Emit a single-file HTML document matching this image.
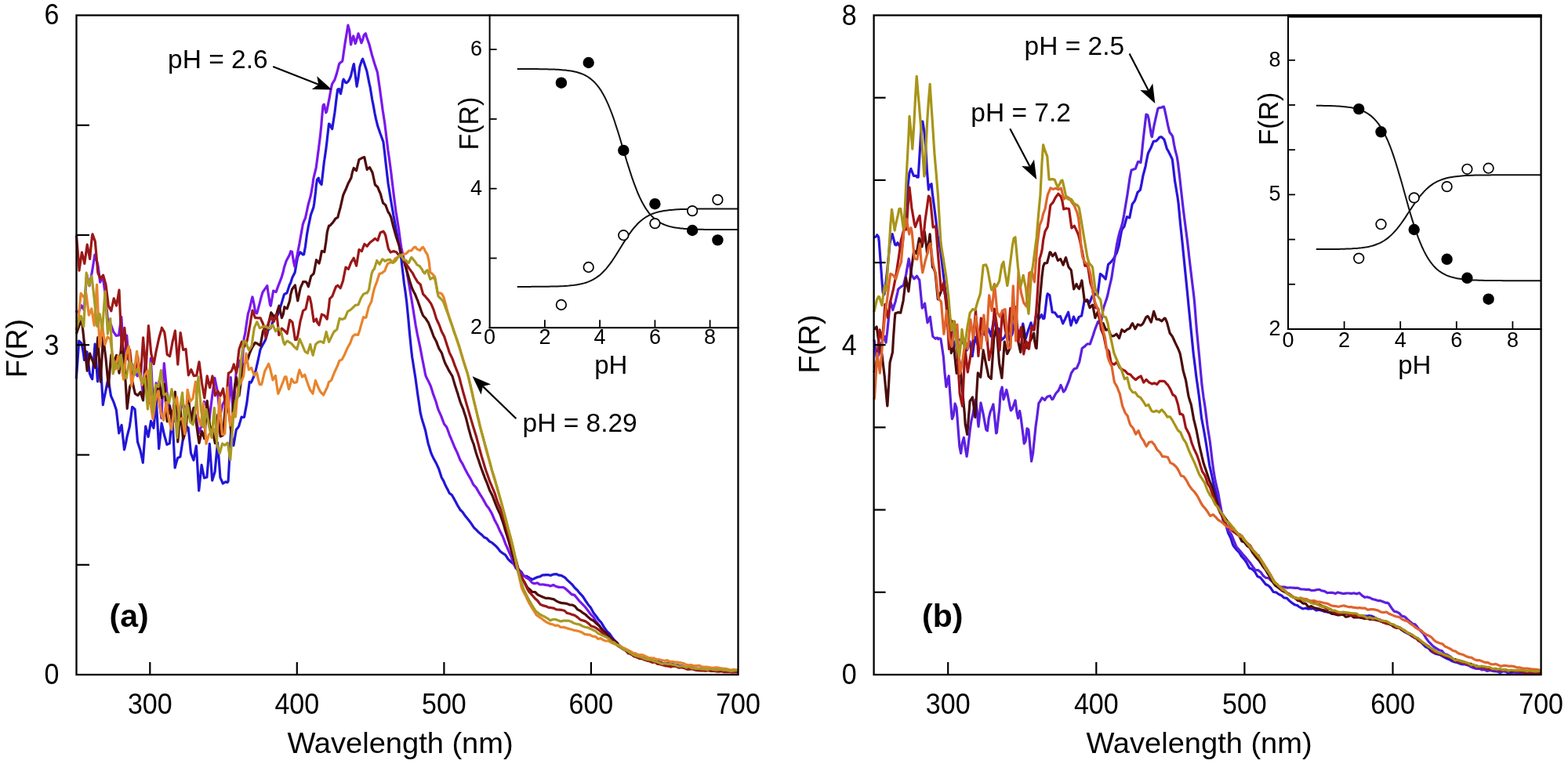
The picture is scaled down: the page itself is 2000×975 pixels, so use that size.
<!DOCTYPE html><html><head><meta charset="utf-8"><style>html,body{margin:0;padding:0;background:#fff;overflow:hidden}svg{display:block}</style></head><body>
<svg width="2000" height="975" viewBox="0 0 2000 975" font-family='"Liberation Sans", Arial, Helvetica, sans-serif' fill="#000">
<defs>
<clipPath id="ca"><rect x="94.5" y="19.5" width="847.0" height="841.5"/></clipPath>
<clipPath id="cb"><rect x="1111.6" y="19.5" width="854.0" height="841.5"/></clipPath>
</defs>
<rect width="2000" height="975" fill="#fff"/>
<polyline points="97.0,483.5 97.3,482.9 98.9,461.3 100.7,435.2 100.8,435.2 102.6,436.9 104.1,438.2 104.5,440.3 106.4,450.9 107.5,459.5 108.2,457.3 110.1,451.5 110.9,449.0 112.0,457.6 113.9,472.7 114.3,476.4 115.8,480.2 117.6,483.7 117.7,483.9 119.5,461.0 121.1,439.0 121.4,442.4 123.2,468.3 124.5,487.0 125.1,482.3 127.0,467.2 127.9,459.8 128.9,475.5 130.8,506.9 131.3,516.6 132.6,509.5 134.5,500.4 134.7,499.3 136.4,491.2 138.1,482.5 138.2,483.4 140.1,496.5 141.5,505.3 142.0,506.3 143.9,510.6 144.9,513.0 145.8,515.4 147.6,520.9 148.3,523.0 149.5,533.2 151.4,549.7 151.7,552.8 153.2,548.1 155.1,542.4 155.1,542.4 157.0,559.7 158.5,573.9 158.9,572.5 160.8,563.9 161.9,557.8 162.6,555.1 164.5,547.7 165.3,544.5 166.4,536.8 168.2,522.9 168.7,519.3 170.1,520.5 172.0,522.2 172.1,522.3 173.9,544.1 175.5,564.1 175.8,564.7 177.6,570.4 178.9,574.3 179.5,577.0 181.4,585.9 182.3,590.4 183.2,578.0 185.1,552.6 185.7,544.2 187.0,549.1 188.9,556.4 189.1,557.4 190.8,547.6 192.5,537.4 192.6,537.7 194.5,542.6 195.9,546.3 196.4,541.8 198.2,522.7 199.3,511.7 200.1,526.0 202.0,559.5 202.7,572.6 203.9,561.7 205.8,543.8 206.1,540.1 207.6,546.4 209.5,554.9 209.5,555.0 211.4,561.7 212.9,567.4 213.2,567.2 215.1,566.4 216.3,565.9 217.0,558.9 218.9,539.3 219.7,530.3 220.8,550.2 222.6,587.1 223.1,597.0 224.5,591.9 226.4,585.0 226.5,584.5 228.2,583.8 229.9,582.9 230.1,581.6 232.0,569.3 233.3,560.7 233.9,557.8 235.8,548.2 236.7,543.2 237.6,544.0 239.5,545.5 240.1,545.9 241.4,557.8 243.2,575.6 243.5,578.2 245.1,582.5 246.9,587.3 247.0,586.9 248.9,576.8 250.3,569.0 250.8,576.1 252.6,607.6 253.7,626.1 254.5,618.6 256.4,600.6 257.1,593.4 258.2,598.9 260.1,608.0 260.5,609.9 262.0,609.5 263.9,609.0 263.9,609.0 265.8,586.2 267.3,566.4 267.6,570.5 269.5,596.3 270.7,613.2 271.4,611.1 273.2,605.0 274.1,602.1 275.1,591.2 277.0,570.7 277.5,564.9 278.9,582.6 280.8,607.1 280.9,609.4 282.6,613.2 284.3,617.0 284.5,616.9 286.4,615.7 287.7,614.8 288.2,615.1 290.1,615.7 291.1,614.0 292.0,598.1 293.9,564.0 294.5,552.2 295.8,559.1 297.6,567.7 297.9,568.5 299.5,559.0 301.3,548.3 301.4,548.2 303.2,546.1 304.7,543.9 305.1,542.3 307.0,535.9 308.1,532.1 308.9,532.4 310.8,532.5 311.5,532.2 312.6,526.1 314.5,516.1 314.9,513.9 316.4,501.8 318.2,487.9 318.3,487.4 320.1,488.2 321.7,485.4 322.0,484.4 323.9,480.0 325.1,477.2 325.8,474.5 327.6,466.5 328.5,462.6 329.5,458.0 331.4,449.0 331.9,446.4 333.2,443.6 335.1,440.0 335.3,439.7 337.0,436.7 338.7,433.5 338.9,432.9 340.8,426.0 342.1,421.0 342.6,420.6 344.5,419.2 345.5,418.4 346.4,415.5 348.2,409.2 348.9,406.9 350.1,406.7 352.0,406.3 352.3,406.2 353.9,402.4 355.7,397.8 355.8,397.7 357.6,391.9 359.1,387.2 359.5,385.9 361.4,379.3 362.5,375.6 363.2,375.2 365.1,374.3 365.9,373.9 367.0,370.7 368.9,365.1 369.3,363.8 370.8,360.8 372.6,354.9 372.7,354.5 374.5,351.0 376.1,347.8 376.4,346.4 378.2,335.8 379.5,328.6 380.1,327.1 382.0,323.5 382.9,321.8 383.9,322.7 385.8,324.4 386.3,325.0 387.6,324.7 389.5,314.5 389.7,312.9 391.4,299.9 393.1,290.3 393.2,289.7 395.1,280.7 396.5,273.9 397.0,272.6 398.9,267.4 399.9,264.5 400.8,259.3 402.6,244.4 403.3,236.7 404.5,229.1 406.4,227.1 406.7,228.9 408.2,233.3 410.1,235.5 410.1,235.5 412.0,219.0 413.5,205.6 413.9,203.5 415.8,190.2 416.9,181.5 417.6,174.9 419.5,158.1 420.3,158.3 421.4,160.3 423.2,163.9 423.7,164.6 425.1,155.5 427.0,143.3 427.1,142.5 428.9,127.5 430.5,115.2 430.8,114.1 432.6,113.6 433.9,118.2 434.5,119.7 436.4,110.6 437.3,103.3 438.2,101.2 440.1,104.2 440.7,105.2 442.0,105.7 443.9,104.1 444.1,103.9 445.8,101.0 447.5,97.0 447.6,96.6 449.5,88.6 450.9,82.6 451.4,81.6 453.2,95.9 454.3,104.3 455.1,110.3 457.0,99.6 457.7,93.7 458.9,85.0 460.8,79.2 461.1,78.1 462.6,75.2 464.5,80.4 464.5,80.5 466.4,86.3 467.9,90.7 468.2,92.3 470.1,101.9 471.3,107.9 472.0,110.5 473.9,121.9 474.7,127.0 475.8,132.4 477.6,142.3 478.1,145.0 479.5,151.6 481.4,159.4 481.5,160.0 483.2,165.1 484.9,170.0 485.1,170.5 487.0,175.7 488.3,179.4 488.9,180.9 490.8,196.4 491.7,204.9 492.6,212.7 494.5,229.1 495.1,234.2 496.4,241.9 498.2,253.5 498.5,255.2 500.1,264.5 501.9,275.1 502.0,275.5 503.9,285.6 505.3,293.4 505.8,295.7 507.6,305.1 508.7,310.5 509.5,314.4 511.4,326.7 512.1,332.7 513.2,342.4 515.1,358.5 515.5,362.0 517.0,372.0 518.9,386.9 518.9,387.3 520.8,406.7 522.3,423.5 522.6,426.6 524.5,445.6 525.7,455.9 526.4,460.0 528.2,471.8 529.1,477.3 530.1,483.7 532.0,497.6 532.5,501.5 533.9,510.8 535.8,523.8 535.9,525.1 537.6,532.6 539.3,538.5 539.5,539.0 541.4,545.2 542.7,549.7 543.2,552.2 545.1,561.1 546.1,565.9 547.0,568.8 548.9,575.0 549.5,577.1 550.8,580.3 552.6,584.2 552.9,584.8 554.5,587.7 556.3,591.1 556.4,591.2 558.2,595.2 559.7,598.4 560.1,599.7 562.0,605.6 563.1,609.1 563.9,610.5 565.8,613.9 566.5,615.4 567.6,618.1 569.5,622.0 569.9,622.7 571.4,625.6 573.2,629.3 573.3,629.4 575.1,630.8 576.7,632.1 577.0,632.7 578.9,636.1 580.1,638.4 580.8,639.5 582.6,643.0 583.5,644.7 584.5,646.4 586.4,649.5 586.9,650.5 588.2,651.7 590.1,653.6 590.3,653.8 592.0,656.3 593.7,658.8 593.9,659.0 595.8,661.3 597.1,662.9 597.6,663.6 599.5,666.0 600.5,667.4 601.4,668.6 603.2,671.4 603.9,672.4 605.1,674.0 607.0,675.6 607.3,675.9 608.9,677.6 610.7,679.5 610.8,679.6 612.6,681.0 614.1,682.1 614.5,682.5 616.4,684.5 617.5,685.7 618.2,686.0 620.1,686.8 620.9,687.1 622.0,688.3 623.9,690.4 624.3,690.9 625.8,691.7 627.6,692.7 627.7,692.8 629.5,694.3 631.1,695.7 631.4,695.9 633.2,697.7 634.5,699.0 635.1,699.8 637.0,702.2 637.9,703.4 638.9,704.2 640.8,705.7 641.3,706.2 642.6,706.9 644.5,708.1 644.7,708.3 646.4,710.8 648.1,713.6 648.2,713.7 650.1,715.5 651.5,716.8 652.0,717.2 653.9,718.7 654.9,719.5 655.8,720.4 657.6,722.3 658.3,723.1 659.5,724.4 661.4,726.6 661.7,727.0 663.2,728.4 665.1,730.0 665.1,730.0 667.0,733.3 668.5,735.0 668.9,735.1 670.8,735.3 671.9,735.4 672.6,735.9 674.5,737.0 675.3,737.6 676.4,738.1 678.2,739.2 678.7,739.4 680.1,739.0 682.0,738.1 682.1,738.0 683.9,737.2 685.5,736.5 685.8,736.4 687.6,736.0 688.9,735.8 689.5,735.4 691.4,734.2 692.3,733.9 693.2,733.9 695.1,733.8 695.7,733.7 697.0,733.7 698.9,733.6 699.1,733.6 700.8,734.0 702.5,734.4 702.6,734.3 704.5,733.5 705.9,733.0 706.4,732.9 708.2,732.8 709.3,732.7 710.1,732.8 712.0,733.6 712.7,734.1 713.9,734.2 715.8,734.5 716.1,734.5 717.6,735.3 719.5,736.3 719.5,736.4 721.4,737.7 722.9,739.6 723.2,739.9 725.1,741.6 726.3,742.7 727.0,743.3 728.9,745.1 729.7,745.9 730.8,747.2 732.6,749.5 733.1,750.2 734.5,751.5 736.4,753.2 736.5,753.3 738.2,755.4 739.9,757.5 740.1,757.7 742.0,759.7 743.3,761.1 743.9,762.0 745.8,764.9 746.7,766.5 747.6,767.7 749.5,770.5 750.1,771.5 751.4,773.0 753.2,775.2 753.5,775.5 755.1,778.5 756.9,781.9 757.0,782.0 758.9,784.4 760.3,786.2 760.8,786.8 762.6,789.5 763.7,791.1 764.5,791.9 766.4,793.9 767.1,794.7 768.2,796.6 770.1,799.9 770.5,800.5 772.0,802.7 773.9,805.5 773.9,805.5 775.8,807.2 777.3,808.4 777.6,808.9 779.5,811.7 780.7,813.6 781.4,814.3 783.2,816.5 784.1,817.5 785.1,818.4 787.0,820.2 787.5,820.7 788.9,822.8 790.8,824.7 790.9,824.9 792.6,826.4 794.3,827.9 794.5,827.9 796.4,828.7 797.7,829.2 798.2,829.4 800.1,830.1 801.1,830.4 802.0,831.1 803.9,832.4 804.5,832.9 805.8,834.0 807.6,835.6 807.9,835.9 809.5,836.2 811.3,836.1 811.4,836.2 813.2,837.1 814.7,837.9 815.1,838.0 817.0,838.4 818.1,838.7 818.9,839.0 820.8,839.6 821.5,839.9 822.6,840.5 824.5,841.5 824.9,841.7 826.4,841.4 828.2,840.9 828.3,840.9 830.1,842.2 831.7,843.4 832.0,843.4 833.9,843.7 835.1,843.9 835.8,844.0 837.6,844.4 838.5,844.7 839.5,844.7 841.4,844.7 841.9,844.8 843.2,845.5 845.1,846.4 845.3,846.5 847.0,846.6 848.7,846.6 848.9,846.6 850.8,846.4 852.1,846.3 852.6,846.4 854.5,846.9 855.5,847.1 856.4,847.3 858.2,847.6 858.9,847.8 860.1,848.0 862.0,848.3 862.3,848.4 863.9,848.7 865.7,849.1 865.8,849.1 867.6,849.3 869.1,849.5 869.5,849.7 871.4,850.8 872.5,851.4 873.2,851.5 875.1,851.7 875.9,851.7 877.0,851.7 878.9,851.7 879.3,851.7 880.8,852.3 882.6,853.0 882.7,853.1 884.5,853.5 886.1,854.0 886.4,854.0 888.2,853.8 889.5,853.7 890.1,853.6 892.0,853.4 892.9,853.2 893.9,853.6 895.8,854.2 896.3,854.4 897.6,854.7 899.5,855.1 899.7,855.2 901.4,854.6 903.1,854.0 903.2,854.1 905.1,854.5 906.5,854.8 907.0,854.8 908.9,855.2 909.9,855.4 910.8,855.5 912.6,855.7 913.3,855.8 914.5,855.8 916.4,855.9 916.7,855.9 918.2,855.9 920.1,855.9 920.1,855.9 922.0,855.9 923.5,855.9 923.9,855.9 925.8,855.9 926.9,855.9 927.6,856.1 929.5,856.7 930.3,857.0 931.4,857.0 933.2,857.1 933.7,857.2 935.1,856.9 937.0,856.7 937.1,856.6 938.9,856.7 940.5,856.7 940.8,856.8 941.0,856.9" fill="none" stroke="#2216d8" stroke-width="3.2" stroke-linejoin="round" clip-path="url(#ca)"/>
<polyline points="97.0,398.6 97.1,398.4 98.9,398.0 100.5,397.6 100.8,397.1 102.6,392.8 103.9,389.8 104.5,390.8 106.4,394.1 107.3,395.8 108.2,383.1 110.1,357.8 110.7,350.7 112.0,356.0 113.9,363.8 114.1,364.8 115.8,356.0 117.5,346.4 117.6,345.7 119.5,334.0 120.9,325.2 121.4,326.6 123.2,332.6 124.3,336.1 125.1,339.7 127.0,354.5 127.7,360.2 128.9,357.6 130.8,353.3 131.1,352.5 132.6,363.5 134.5,377.3 134.5,377.4 136.4,397.1 137.9,413.5 138.2,413.6 140.1,414.3 141.3,413.9 142.0,415.8 143.9,421.0 144.7,423.3 145.8,424.9 147.6,427.7 148.1,428.5 149.5,428.2 151.4,427.9 151.5,427.9 153.2,416.0 154.9,404.5 155.1,408.5 157.0,444.2 158.3,469.4 158.9,462.9 160.8,440.4 161.7,428.2 162.6,438.8 164.5,460.0 165.1,466.9 166.4,466.0 168.2,464.7 168.5,464.5 170.1,468.8 171.9,473.5 172.0,473.7 173.9,477.2 175.3,479.9 175.8,478.9 177.6,474.6 178.7,472.0 179.5,478.8 181.4,494.2 182.1,500.2 183.2,486.1 185.1,462.8 185.5,458.1 187.0,478.3 188.9,503.7 188.9,504.2 190.8,478.9 192.3,457.3 192.6,463.0 194.5,497.5 195.7,519.8 196.4,513.8 198.2,496.8 199.1,488.9 200.1,495.3 202.0,506.1 202.5,509.0 203.9,518.9 205.8,532.4 205.9,533.6 207.6,498.3 209.3,463.5 209.5,465.4 211.4,485.2 212.7,499.2 213.2,502.3 215.1,513.1 216.1,518.7 217.0,520.8 218.9,525.3 219.5,526.8 220.8,530.7 222.6,536.6 222.9,537.5 224.5,531.0 226.3,523.6 226.4,523.5 228.2,523.3 229.7,523.1 230.1,522.3 232.0,518.3 233.1,516.0 233.9,517.0 235.8,519.4 236.5,520.3 237.6,519.4 239.5,517.8 239.9,517.5 241.4,526.0 243.2,537.0 243.3,537.4 245.1,528.9 246.7,521.5 247.0,522.5 248.9,528.8 250.1,533.0 250.8,536.9 252.6,547.6 253.5,552.6 254.5,549.9 256.4,544.9 256.9,543.4 258.2,531.2 260.1,514.2 260.3,512.5 262.0,514.9 263.7,517.4 263.9,518.2 265.8,527.7 267.1,534.5 267.6,530.3 269.5,514.8 270.5,506.5 271.4,500.3 273.2,487.0 273.9,482.3 275.1,488.3 277.0,497.6 277.3,499.2 278.9,513.8 280.7,530.9 280.8,530.8 282.6,522.4 284.1,515.8 284.5,515.5 286.4,511.4 287.5,508.3 288.2,511.8 290.1,520.8 290.9,524.6 292.0,510.9 293.9,487.3 294.3,481.7 295.8,505.5 297.6,530.8 297.7,531.6 299.5,499.3 301.1,475.9 301.4,474.6 303.2,465.6 304.5,459.8 305.1,463.8 307.0,474.1 307.9,478.0 308.9,463.4 310.8,438.0 311.3,431.1 312.6,426.2 314.5,412.7 314.7,411.2 316.4,400.2 318.1,395.2 318.2,394.6 320.1,386.5 321.5,380.4 322.0,378.9 323.9,387.5 324.9,393.7 325.8,399.0 327.6,399.8 328.3,397.9 329.5,393.3 331.4,386.1 331.7,384.8 333.2,379.1 335.1,372.8 335.1,372.8 337.0,370.1 338.5,367.9 338.9,367.4 340.8,364.6 341.9,372.7 342.6,377.1 344.5,388.9 345.3,390.2 346.4,384.3 348.2,373.7 348.7,371.1 350.1,371.7 352.0,372.5 352.1,372.6 353.9,367.6 355.5,363.2 355.8,362.6 357.6,357.9 358.9,354.7 359.5,352.8 361.4,346.3 362.3,341.8 363.2,339.0 365.1,333.2 365.7,331.9 367.0,329.5 368.9,326.1 369.1,325.7 370.8,320.7 372.5,321.3 372.6,322.0 374.5,333.8 375.9,340.1 376.4,338.0 378.2,329.3 379.3,324.4 380.1,320.3 382.0,310.6 382.7,306.5 383.9,299.8 385.8,289.0 386.1,286.9 387.6,282.5 389.5,278.3 389.5,278.2 391.4,269.5 392.9,262.3 393.2,261.0 395.1,254.1 396.3,249.7 397.0,246.0 398.9,235.0 399.7,228.5 400.8,223.9 402.6,216.3 403.1,214.6 404.5,204.2 406.4,190.0 406.5,188.9 408.2,175.8 409.9,159.3 410.1,156.1 412.0,134.6 413.3,133.2 413.9,135.6 415.8,143.8 416.7,142.2 417.6,137.7 419.5,128.4 420.1,125.4 421.4,117.7 423.2,108.8 423.5,107.6 425.1,104.7 426.9,101.9 427.0,101.6 428.9,95.8 430.3,90.6 430.8,88.9 432.6,81.7 433.7,80.2 434.5,79.7 436.4,78.4 437.1,76.2 438.2,68.3 440.1,55.2 440.5,52.5 442.0,43.7 443.9,32.3 443.9,32.1 445.8,39.2 447.3,55.5 447.6,56.9 449.5,49.1 450.7,45.9 451.4,48.4 453.2,55.7 454.1,53.7 455.1,49.8 457.0,42.8 457.5,43.8 458.9,48.2 460.8,54.3 460.9,54.8 462.6,50.9 464.3,44.8 464.5,44.4 466.4,42.7 467.7,47.3 468.2,48.8 470.1,54.1 471.1,57.0 472.0,60.5 473.9,68.0 474.5,70.5 475.8,74.6 477.6,80.8 477.9,81.8 479.5,86.6 481.3,92.1 481.4,92.2 483.2,104.8 484.7,115.1 485.1,118.1 487.0,132.0 488.1,140.2 488.9,145.3 490.8,157.8 491.5,163.4 492.6,172.7 494.5,188.3 494.9,191.8 496.4,202.0 498.2,215.3 498.3,215.7 500.1,231.0 501.7,244.4 502.0,246.8 503.9,261.6 505.1,270.8 505.8,274.7 507.6,286.2 508.5,291.6 509.5,299.5 511.4,313.1 511.9,316.1 513.2,322.1 515.1,330.5 515.3,331.4 517.0,338.0 518.7,345.8 518.9,346.8 520.8,357.5 522.1,365.3 522.6,368.3 524.5,379.5 525.5,385.6 526.4,391.0 528.2,402.7 528.9,406.9 530.1,414.7 532.0,424.9 532.3,426.5 533.9,433.9 535.7,442.5 535.8,442.6 537.6,452.4 539.1,460.2 539.5,462.1 541.4,471.7 542.5,477.5 543.2,480.1 545.1,484.0 545.9,485.3 547.0,487.7 548.9,491.7 549.3,492.6 550.8,497.2 552.6,503.2 552.7,503.4 554.5,508.3 556.1,512.7 556.4,513.7 558.2,520.3 559.5,523.9 560.1,525.2 562.0,529.4 562.9,531.4 563.9,534.1 565.8,539.3 566.3,540.8 567.6,542.4 569.5,544.8 569.7,545.1 571.4,549.5 573.1,554.3 573.2,554.6 575.1,559.2 576.5,562.5 577.0,563.7 578.9,568.3 579.9,570.8 580.8,572.7 582.6,576.4 583.3,577.8 584.5,580.9 586.4,585.7 586.7,586.6 588.2,589.1 590.1,592.1 590.1,592.2 592.0,596.1 593.5,599.2 593.9,599.9 595.8,603.4 596.9,605.6 597.6,606.7 599.5,609.8 600.3,611.2 601.4,613.4 603.2,617.2 603.7,618.2 605.1,619.9 607.0,621.8 607.1,621.9 608.9,625.1 610.5,628.1 610.8,628.4 612.6,631.3 613.9,633.3 614.5,634.3 616.4,637.5 617.3,639.1 618.2,640.7 620.1,644.1 620.7,645.2 622.0,646.8 623.9,649.3 624.1,649.7 625.8,652.6 627.5,655.7 627.6,655.9 629.5,660.4 630.9,663.8 631.4,664.6 633.2,668.0 634.3,669.9 635.1,671.8 637.0,676.2 637.7,677.8 638.9,680.1 640.8,683.7 641.1,684.4 642.6,688.1 644.5,693.4 644.5,693.5 646.4,697.6 647.9,701.0 648.2,701.8 650.1,706.0 651.3,708.6 652.0,710.5 653.9,715.6 654.7,717.9 655.8,720.6 657.6,724.7 658.1,725.3 659.5,726.6 661.4,728.2 661.5,728.3 663.2,730.2 664.9,731.9 665.1,732.1 667.0,734.0 668.3,735.0 668.9,735.3 670.8,736.7 671.7,737.4 672.6,737.9 674.5,739.1 675.1,739.5 676.4,741.0 678.2,743.1 678.5,743.4 680.1,744.3 681.9,744.6 682.0,744.6 683.9,744.2 685.3,743.9 685.8,744.2 687.6,745.4 688.7,746.0 689.5,746.0 691.4,745.9 692.1,745.8 693.2,746.0 695.1,746.4 695.5,746.4 697.0,746.6 698.9,746.8 698.9,746.8 700.8,747.4 702.3,748.0 702.6,747.8 704.5,747.0 705.7,746.5 706.4,746.8 708.2,747.9 709.1,748.3 710.1,748.6 712.0,749.1 712.5,749.3 713.9,749.4 715.8,749.5 715.9,749.5 717.6,749.3 719.3,749.9 719.5,750.0 721.4,751.4 722.7,752.4 723.2,753.0 725.1,754.7 726.1,755.7 727.0,756.5 728.9,758.2 729.5,758.8 730.8,758.9 732.6,759.4 732.9,759.5 734.5,761.5 736.3,763.8 736.4,763.8 738.2,766.1 739.7,767.8 740.1,768.2 742.0,770.1 743.1,771.2 743.9,772.0 745.8,774.0 746.5,774.8 747.6,776.1 749.5,778.6 749.9,779.3 751.4,781.2 753.2,783.7 753.3,783.8 755.1,785.6 756.7,787.2 757.0,787.7 758.9,790.7 760.1,792.7 760.8,793.5 762.6,795.8 763.5,796.9 764.5,798.5 766.4,801.0 766.9,801.7 768.2,803.3 770.1,805.7 770.3,806.0 772.0,807.5 773.7,809.1 773.9,809.2 775.8,811.4 777.1,813.0 777.6,813.5 779.5,815.1 780.5,816.1 781.4,816.9 783.2,818.6 783.9,819.3 785.1,820.5 787.0,822.3 787.3,822.6 788.9,823.7 790.7,824.4 790.8,824.4 792.6,825.7 794.1,826.8 794.5,827.1 796.4,828.4 797.5,829.3 798.2,829.8 800.1,831.0 800.9,831.5 802.0,832.1 803.9,833.3 804.3,833.5 805.8,834.0 807.6,834.7 807.7,834.8 809.5,835.7 811.1,836.1 811.4,836.2 813.2,836.7 814.5,837.1 815.1,837.6 817.0,839.1 817.9,839.8 818.9,839.8 820.8,839.7 821.3,839.7 822.6,840.3 824.5,841.2 824.7,841.2 826.4,841.5 828.1,841.7 828.2,841.8 830.1,842.3 831.5,842.7 832.0,842.8 833.9,843.3 834.9,843.6 835.8,843.8 837.6,844.3 838.3,844.5 839.5,844.9 841.4,845.6 841.7,845.7 843.2,846.3 845.1,846.9 845.1,846.9 847.0,846.5 848.5,846.2 848.9,846.4 850.8,847.0 851.9,847.5 852.6,847.5 854.5,847.7 855.3,847.8 856.4,848.0 858.2,848.2 858.7,848.3 860.1,848.7 862.0,849.4 862.1,849.4 863.9,849.9 865.5,850.4 865.8,850.4 867.6,849.8 868.9,849.4 869.5,849.6 871.4,850.4 872.3,850.7 873.2,851.0 875.1,851.6 875.7,851.8 877.0,851.9 878.9,852.2 879.1,852.2 880.8,851.8 882.5,851.4 882.6,851.5 884.5,852.4 885.9,853.1 886.4,853.1 888.2,853.2 889.3,853.2 890.1,853.3 892.0,853.6 892.7,853.7 893.9,854.1 895.8,854.5 896.1,854.6 897.6,854.2 899.5,853.8 899.5,853.8 901.4,854.2 902.9,854.6 903.2,854.6 905.1,854.9 906.3,855.0 907.0,854.9 908.9,854.5 909.7,854.4 910.8,854.4 912.6,854.3 913.1,854.3 914.5,855.0 916.4,856.0 916.5,856.0 918.2,855.3 919.9,854.7 920.1,854.7 922.0,855.5 923.3,856.0 923.9,855.9 925.8,855.4 926.7,855.2 927.6,855.3 929.5,855.7 930.1,855.8 931.4,855.7 933.2,855.6 933.5,855.6 935.1,855.8 936.9,856.0 937.0,856.0 938.9,856.1 940.3,856.1 940.8,856.1 941.0,856.0" fill="none" stroke="#7a18ec" stroke-width="3.2" stroke-linejoin="round" clip-path="url(#ca)"/>
<polyline points="97.0,425.2 97.6,425.4 98.9,421.6 100.8,416.0 101.0,415.4 102.6,411.9 104.4,408.3 104.5,409.6 106.4,427.6 107.8,441.0 108.2,445.6 110.1,463.3 111.2,473.2 112.0,467.8 113.9,455.5 114.6,451.0 115.8,454.3 117.6,459.2 118.0,460.0 119.5,464.3 121.4,469.3 121.4,469.2 123.2,447.9 124.8,430.6 125.1,436.6 127.0,467.7 128.2,487.2 128.9,474.9 130.8,443.3 131.6,430.0 132.6,438.6 134.5,453.8 135.0,457.6 136.4,472.3 138.2,492.0 138.4,493.2 140.1,472.1 141.8,452.8 142.0,453.4 143.9,458.5 145.2,462.0 145.8,460.5 147.6,455.8 148.6,453.4 149.5,459.5 151.4,472.1 152.0,476.1 153.2,459.5 155.1,435.3 155.4,432.2 157.0,448.4 158.8,466.0 158.9,467.9 160.8,498.3 162.2,521.4 162.6,517.8 164.5,502.4 165.6,493.5 166.4,492.0 168.2,488.5 169.0,487.1 170.1,492.7 172.0,500.8 172.4,502.4 173.9,503.4 175.8,504.6 175.8,504.6 177.6,502.2 179.2,500.2 179.5,501.3 181.4,507.2 182.6,510.9 183.2,501.2 185.1,474.7 186.0,463.0 187.0,478.8 188.9,507.3 189.4,514.7 190.8,504.2 192.6,489.9 192.8,488.8 194.5,506.3 196.2,523.1 196.4,522.1 198.2,513.4 199.6,507.2 200.1,504.0 202.0,492.5 203.0,486.7 203.9,492.4 205.8,504.2 206.4,508.0 207.6,501.1 209.5,491.4 209.8,490.1 211.4,512.7 213.2,537.9 213.2,537.3 215.1,526.4 216.6,518.0 217.0,520.9 218.9,533.4 220.0,540.6 220.8,531.3 222.6,509.0 223.4,500.2 224.5,521.5 226.4,556.6 226.8,563.8 228.2,546.6 230.1,524.0 230.2,523.6 232.0,543.7 233.6,560.8 233.9,559.8 235.8,553.8 237.0,550.0 237.6,541.6 239.5,518.0 240.4,507.2 241.4,516.7 243.2,534.3 243.8,539.1 245.1,531.6 247.0,521.3 247.2,520.4 248.9,531.2 250.6,541.9 250.8,543.1 252.6,556.2 254.0,565.5 254.5,563.1 256.4,554.7 257.4,550.2 258.2,552.7 260.1,558.0 260.8,559.8 262.0,542.3 263.9,515.7 264.2,511.7 265.8,526.5 267.6,543.4 267.6,543.5 269.5,546.2 271.0,548.2 271.4,550.3 273.2,560.0 274.4,565.7 275.1,557.6 277.0,537.5 277.8,529.4 278.9,538.4 280.8,553.6 281.2,557.0 282.6,556.3 284.5,555.3 284.6,555.3 286.4,531.9 288.0,511.1 288.2,511.9 290.1,517.0 291.4,520.4 292.0,526.3 293.9,543.6 294.8,551.8 295.8,540.9 297.6,515.6 298.2,505.2 299.5,492.3 301.4,482.4 301.6,481.7 303.2,494.3 305.0,505.0 305.1,503.7 307.0,490.1 308.4,480.6 308.9,477.4 310.8,467.4 311.8,463.7 312.6,463.2 314.5,461.9 315.2,461.4 316.4,457.3 318.2,451.4 318.6,450.4 320.1,446.9 322.0,442.9 322.0,442.9 323.9,439.8 325.4,437.3 325.8,437.4 327.6,438.2 328.8,438.9 329.5,439.4 331.4,440.6 332.2,441.1 333.2,435.0 335.1,424.6 335.6,422.2 337.0,421.3 338.9,420.3 339.0,420.2 340.8,417.2 342.4,413.5 342.6,412.4 344.5,404.3 345.8,398.9 346.4,399.7 348.2,402.4 349.2,403.7 350.1,403.2 352.0,402.1 352.6,401.8 353.9,396.5 355.8,390.8 356.0,390.2 357.6,397.7 359.4,405.7 359.5,405.3 361.4,400.6 362.8,391.7 363.2,392.1 365.1,393.3 366.2,394.0 367.0,391.5 368.9,385.7 369.6,383.6 370.8,375.6 372.6,369.0 373.0,368.5 374.5,366.4 376.4,363.9 376.4,363.9 378.2,375.2 379.8,383.9 380.1,382.2 382.0,373.1 383.2,367.5 383.9,365.8 385.8,361.6 386.6,359.7 387.6,359.6 389.5,359.5 390.0,359.5 391.4,361.1 393.2,365.5 393.4,365.9 395.1,358.9 396.8,352.4 397.0,352.1 398.9,350.3 400.2,349.0 400.8,346.1 402.6,336.5 403.6,331.7 404.5,333.0 406.4,335.3 407.0,336.1 408.2,331.7 410.1,321.6 410.4,320.3 412.0,320.9 413.8,321.6 413.9,320.9 415.8,308.8 417.2,297.1 417.6,294.9 419.5,288.2 420.6,288.1 421.4,287.3 423.2,285.4 424.0,284.7 425.1,283.1 427.0,280.5 427.4,279.3 428.9,278.5 430.8,277.3 430.8,277.3 432.6,270.4 434.2,264.7 434.5,263.3 436.4,254.9 437.6,249.6 438.2,248.0 440.1,243.7 441.0,241.8 442.0,239.3 443.9,234.7 444.4,233.5 445.8,231.0 447.6,227.6 447.8,227.4 449.5,219.5 451.2,214.5 451.4,214.7 453.2,216.5 454.6,217.7 455.1,215.4 457.0,207.6 458.0,203.6 458.9,203.2 460.8,202.2 461.4,201.9 462.6,201.2 464.5,200.6 464.8,200.6 466.4,208.2 468.2,216.5 468.2,216.4 470.1,214.5 471.6,213.7 472.0,214.5 473.9,218.1 475.0,220.1 475.8,223.5 477.6,232.0 478.4,235.7 479.5,236.7 481.4,238.5 481.8,238.9 483.2,242.5 485.1,246.8 485.2,246.8 487.0,253.6 488.6,259.1 488.9,259.3 490.8,260.9 492.0,262.1 492.6,264.0 494.5,269.0 495.4,271.2 496.4,272.1 498.2,276.0 498.8,277.4 500.1,282.8 502.0,290.3 502.2,290.9 503.9,297.0 505.6,303.0 505.8,303.6 507.6,309.0 509.0,312.9 509.5,315.2 511.4,323.2 512.4,327.3 513.2,329.3 515.1,333.4 515.8,334.9 517.0,339.1 518.9,345.6 519.2,346.6 520.8,352.2 522.6,358.6 522.6,358.8 524.5,364.5 526.0,368.9 526.4,369.7 528.2,373.3 529.4,375.4 530.1,377.2 532.0,381.9 532.8,383.7 533.9,387.0 535.8,392.4 536.2,393.6 537.6,397.9 539.5,402.5 539.6,402.7 541.4,404.7 543.0,406.5 543.2,406.9 545.1,409.8 546.4,411.7 547.0,413.3 548.9,418.1 549.8,420.3 550.8,422.9 552.6,428.1 553.2,429.5 554.5,432.0 556.4,435.5 556.6,435.9 558.2,440.4 560.0,444.9 560.1,445.2 562.0,448.2 563.4,450.5 563.9,452.1 565.8,457.9 566.8,460.9 567.6,463.0 569.5,466.9 570.2,468.1 571.4,470.4 573.2,473.9 573.6,474.5 575.1,477.0 577.0,480.1 577.0,480.2 578.9,486.6 580.4,491.8 580.8,492.9 582.6,498.6 583.8,502.0 584.5,504.7 586.4,510.7 587.2,513.2 588.2,515.9 590.1,520.4 590.6,521.5 592.0,525.9 593.9,531.7 594.0,532.0 595.8,538.9 597.4,545.4 597.6,546.3 599.5,553.1 600.8,557.7 601.4,559.6 603.2,564.5 604.2,566.9 605.1,570.3 607.0,577.1 607.6,579.1 608.9,582.9 610.8,588.3 611.0,588.9 612.6,594.0 614.4,599.0 614.5,599.3 616.4,604.4 617.8,608.1 618.2,609.3 620.1,613.9 621.2,616.5 622.0,618.8 623.9,623.9 624.6,625.8 625.8,628.1 627.6,631.7 628.0,632.3 629.5,636.4 631.4,641.2 631.4,641.3 633.2,645.9 634.8,649.6 635.1,650.4 637.0,654.3 638.2,656.7 638.9,658.9 640.8,664.5 641.6,666.9 642.6,669.9 644.5,676.7 645.0,678.3 646.4,682.6 648.2,688.3 648.4,688.7 650.1,695.2 651.8,701.2 652.0,702.0 653.9,708.3 655.2,712.6 655.8,714.8 657.6,721.0 658.6,723.5 659.5,725.8 661.4,730.3 662.0,731.8 663.2,735.2 665.1,738.4 665.4,738.8 667.0,740.5 668.8,742.4 668.9,742.6 670.8,746.2 672.2,748.9 672.6,749.5 674.5,751.5 675.6,752.1 676.4,752.9 678.2,754.7 679.0,755.4 680.1,755.5 682.0,755.5 682.4,755.5 683.9,757.0 685.8,758.9 685.8,758.9 687.6,759.8 689.2,760.4 689.5,760.6 691.4,761.5 692.6,762.1 693.2,762.3 695.1,763.0 696.0,763.3 697.0,763.3 698.9,763.4 699.4,763.4 700.8,763.6 702.6,764.0 702.8,764.0 704.5,764.4 706.2,764.7 706.4,764.8 708.2,766.0 709.6,766.9 710.1,767.2 712.0,768.1 713.0,768.6 713.9,768.9 715.8,769.4 716.4,769.6 717.6,769.7 719.5,769.9 719.8,769.9 721.4,770.1 723.2,770.4 723.2,770.4 725.1,771.2 726.6,771.8 727.0,771.8 728.9,772.0 730.0,772.1 730.8,772.4 732.6,773.4 733.4,773.9 734.5,775.2 736.4,777.4 736.8,777.9 738.2,778.6 740.1,779.5 740.2,779.5 742.0,781.0 743.6,782.2 743.9,782.4 745.8,783.6 747.0,784.3 747.6,785.0 749.5,786.8 750.4,787.7 751.4,788.4 753.2,790.1 753.8,790.5 755.1,791.2 757.0,792.2 757.2,792.3 758.9,793.9 760.6,795.6 760.8,795.7 762.6,797.3 764.0,798.5 764.5,799.1 766.4,801.4 767.4,802.7 768.2,803.5 770.1,805.3 770.8,806.0 772.0,806.9 773.9,808.3 774.2,808.6 775.8,810.8 777.6,813.3 777.6,813.4 779.5,814.7 781.0,815.7 781.4,816.0 783.2,817.5 784.4,818.4 785.1,819.0 787.0,820.7 787.8,821.4 788.9,822.8 790.8,824.7 791.2,825.1 792.6,826.2 794.5,827.6 794.6,827.6 796.4,828.5 798.0,829.4 798.2,829.6 800.1,831.1 801.4,832.2 802.0,832.7 803.9,834.2 804.8,834.9 805.8,835.3 807.6,836.2 808.2,836.5 809.5,837.4 811.4,838.2 811.6,838.3 813.2,839.0 815.0,839.7 815.1,839.7 817.0,839.9 818.4,840.1 818.9,840.1 820.8,840.4 821.8,840.5 822.6,840.9 824.5,841.7 825.2,842.0 826.4,842.4 828.2,842.9 828.6,843.0 830.1,843.8 832.0,844.8 832.0,844.8 833.9,844.6 835.4,844.4 835.8,844.5 837.6,844.7 838.8,844.8 839.5,845.2 841.4,846.3 842.2,846.8 843.2,847.1 845.1,847.3 845.6,847.4 847.0,847.5 848.9,847.6 849.0,847.6 850.8,848.2 852.4,848.7 852.6,848.7 854.5,849.0 855.8,849.1 856.4,849.3 858.2,849.9 859.2,850.2 860.1,850.0 862.0,849.7 862.6,849.7 863.9,849.9 865.8,850.3 866.0,850.3 867.6,850.7 869.4,851.2 869.5,851.2 871.4,851.4 872.8,851.5 873.2,851.7 875.1,852.5 876.2,852.9 877.0,852.9 878.9,853.0 879.6,853.1 880.8,853.1 882.6,853.3 883.0,853.3 884.5,853.9 886.4,854.6 886.4,854.6 888.2,854.6 889.8,854.6 890.1,854.7 892.0,855.1 893.2,855.4 893.9,855.5 895.8,855.5 896.6,855.5 897.6,855.4 899.5,855.3 900.0,855.2 901.4,855.3 903.2,855.4 903.4,855.4 905.1,855.5 906.8,855.6 907.0,855.6 908.9,855.4 910.2,855.2 910.8,855.3 912.6,855.6 913.6,855.7 914.5,855.9 916.4,856.3 917.0,856.5 918.2,856.4 920.1,856.4 920.4,856.3 922.0,856.1 923.8,855.9 923.9,855.9 925.8,856.8 927.2,857.5 927.6,857.3 929.5,856.6 930.6,856.1 931.4,856.4 933.2,856.9 934.0,857.1 935.1,857.2 937.0,857.3 937.4,857.3 938.9,857.5 940.8,857.7 940.8,857.7 941.0,857.6" fill="none" stroke="#4e0c0c" stroke-width="3.2" stroke-linejoin="round" clip-path="url(#ca)"/>
<polyline points="97.0,302.9 97.6,301.5 98.9,317.5 100.8,341.7 101.0,345.2 102.6,334.3 104.4,322.0 104.5,322.3 106.4,330.2 107.8,336.4 108.2,333.4 110.1,320.0 111.2,312.2 112.0,316.4 113.9,326.5 114.6,330.5 115.8,317.3 117.6,300.3 118.0,298.8 119.5,303.1 121.4,308.2 121.4,308.3 123.2,329.5 124.8,347.7 125.1,348.9 127.0,353.0 128.2,355.7 128.9,354.8 130.8,352.3 131.6,351.1 132.6,354.7 134.5,361.4 135.0,363.3 136.4,374.5 138.2,388.9 138.4,390.2 140.1,393.5 141.8,396.8 142.0,395.9 143.9,387.2 145.2,380.8 145.8,382.3 147.6,387.4 148.6,390.1 149.5,384.7 151.4,373.9 152.0,370.2 153.2,397.8 155.1,440.0 155.4,446.7 157.0,433.6 158.8,418.3 158.9,419.0 160.8,440.8 162.2,457.9 162.6,456.8 164.5,450.8 165.6,446.4 166.4,454.0 168.2,472.8 169.0,480.5 170.1,479.1 172.0,476.6 172.4,476.1 173.9,467.1 175.8,455.5 175.8,455.1 177.6,469.4 179.2,482.2 179.5,478.4 181.4,450.2 182.6,430.8 183.2,438.5 185.1,461.5 186.0,473.0 187.0,456.5 188.9,424.8 189.4,415.6 190.8,429.6 192.6,449.3 192.8,451.3 194.5,457.9 196.2,464.5 196.4,463.7 198.2,453.4 199.6,445.9 200.1,443.8 202.0,435.2 203.0,430.6 203.9,427.5 205.8,420.6 206.4,418.2 207.6,420.3 209.5,423.6 209.8,424.2 211.4,435.6 213.2,452.4 213.2,452.4 215.1,453.7 216.6,454.7 217.0,452.6 218.9,442.7 220.0,436.6 220.8,433.5 222.6,425.5 223.4,422.1 224.5,436.3 226.4,459.7 226.8,465.1 228.2,448.0 230.1,425.7 230.2,424.5 232.0,436.0 233.6,446.5 233.9,446.4 235.8,445.8 237.0,445.5 237.6,451.4 239.5,469.8 240.4,478.8 241.4,476.8 243.2,472.8 243.8,471.6 245.1,474.6 247.0,479.1 247.2,479.6 248.9,479.4 250.6,479.2 250.8,478.6 252.6,469.0 254.0,461.8 254.5,465.5 256.4,480.1 257.4,488.2 258.2,493.0 260.1,503.8 260.8,507.8 262.0,498.1 263.9,482.8 264.2,479.9 265.8,486.7 267.6,494.7 267.6,494.6 269.5,486.6 271.0,480.0 271.4,482.6 273.2,496.1 274.4,504.8 275.1,503.6 277.0,500.5 277.8,499.1 278.9,500.9 280.8,504.2 281.2,505.0 282.6,501.3 284.5,496.3 284.6,496.0 286.4,508.6 288.0,520.0 288.2,517.1 290.1,493.0 291.4,476.3 292.0,476.0 293.9,474.7 294.8,474.1 295.8,472.2 297.6,467.3 298.2,464.8 299.5,469.4 301.4,475.1 301.6,475.8 303.2,460.8 305.0,445.7 305.1,445.4 307.0,440.1 308.4,436.1 308.9,437.2 310.8,440.9 311.8,442.3 312.6,440.5 314.5,436.1 315.2,434.3 316.4,428.1 318.2,418.2 318.6,416.4 320.1,406.9 322.0,396.1 322.0,396.0 323.9,401.2 325.4,405.6 325.8,405.6 327.6,405.7 328.8,405.8 329.5,405.8 331.4,405.9 332.2,405.9 333.2,408.2 335.1,412.2 335.6,413.3 337.0,420.6 338.9,430.6 339.0,431.4 340.8,422.5 342.4,412.2 342.6,411.8 344.5,407.3 345.8,404.2 346.4,405.3 348.2,408.7 349.2,410.5 350.1,408.0 352.0,402.7 352.6,401.0 353.9,409.7 355.8,427.7 356.0,427.5 357.6,423.5 359.4,419.1 359.5,419.1 361.4,420.7 362.8,422.0 363.2,422.3 365.1,424.5 366.2,425.7 367.0,421.7 368.9,412.1 369.6,408.3 370.8,409.3 372.6,410.9 373.0,411.2 374.5,420.4 376.4,433.2 376.4,433.5 378.2,433.5 379.8,428.4 380.1,426.7 382.0,416.0 383.2,409.1 383.9,406.7 385.8,399.7 386.6,396.5 387.6,395.8 389.5,394.6 390.0,394.2 391.4,387.7 393.2,379.1 393.4,378.5 395.1,379.5 396.8,386.8 397.0,388.1 398.9,401.0 400.2,410.3 400.8,409.8 402.6,407.9 403.6,406.9 404.5,411.1 406.4,413.9 407.0,414.8 408.2,409.9 410.1,402.3 410.4,401.2 412.0,401.9 413.8,402.7 413.9,402.8 415.8,405.3 417.2,407.2 417.6,404.4 419.5,391.2 420.6,381.2 421.4,380.5 423.2,378.6 424.0,377.8 425.1,374.7 427.0,369.6 427.4,368.5 428.9,365.3 430.8,364.3 430.8,364.2 432.6,366.2 434.2,367.7 434.5,366.9 436.4,361.4 437.6,357.9 438.2,354.7 440.1,345.3 441.0,341.0 442.0,341.8 443.9,343.2 444.4,343.5 445.8,340.0 447.6,335.2 447.8,334.8 449.5,332.1 451.2,329.3 451.4,329.8 453.2,335.3 454.6,339.2 455.1,336.0 457.0,324.6 458.0,318.6 458.9,319.1 460.8,320.2 461.4,320.6 462.6,317.3 464.5,312.3 464.8,311.4 466.4,312.8 468.2,314.3 468.2,314.3 470.1,311.8 471.6,309.9 472.0,309.6 473.9,308.1 475.0,307.1 475.8,306.6 477.6,305.1 478.4,304.4 479.5,305.3 481.4,306.6 481.8,306.9 483.2,302.4 485.1,297.0 485.2,296.7 487.0,296.0 488.6,295.4 488.9,295.1 490.8,298.0 492.0,301.4 492.6,304.5 494.5,313.3 495.4,317.5 496.4,319.1 498.2,322.0 498.8,321.5 500.1,321.2 502.0,320.6 502.2,320.5 503.9,321.2 505.6,321.8 505.8,322.0 507.6,324.4 509.0,326.2 509.5,325.7 511.4,325.5 512.4,326.2 513.2,328.0 515.1,332.0 515.8,333.6 517.0,335.3 518.9,338.1 519.2,338.7 520.8,340.9 522.6,343.6 522.6,343.6 524.5,346.1 526.0,348.1 526.4,348.8 528.2,352.3 529.4,354.5 530.1,355.6 532.0,358.8 532.8,360.1 533.9,361.0 535.8,362.6 536.2,363.0 537.6,368.2 539.5,374.9 539.6,375.3 541.4,377.2 543.0,378.9 543.2,379.2 545.1,381.4 546.4,382.9 547.0,383.7 548.9,386.4 549.8,387.7 550.8,389.9 552.6,394.2 553.2,395.6 554.5,399.9 556.4,406.1 556.6,406.9 558.2,410.3 560.0,414.0 560.1,414.3 562.0,419.5 563.4,423.4 563.9,424.2 565.8,427.8 566.8,429.8 567.6,432.4 569.5,438.3 570.2,440.5 571.4,444.0 573.2,449.7 573.6,450.8 575.1,453.7 577.0,457.6 577.0,457.6 578.9,462.9 580.4,467.2 580.8,468.0 582.6,472.6 583.8,475.5 584.5,477.5 586.4,483.6 587.2,487.0 588.2,490.9 590.1,497.9 590.6,499.8 592.0,504.7 593.9,511.4 594.0,511.9 595.8,518.1 597.4,523.4 597.6,524.1 599.5,530.7 600.8,535.3 601.4,537.1 603.2,543.2 604.2,546.4 605.1,549.3 607.0,555.4 607.6,557.5 608.9,562.3 610.8,569.4 611.0,570.5 612.6,576.2 614.4,582.7 614.5,582.9 616.4,589.2 617.8,594.0 618.2,595.6 620.1,601.3 621.2,604.2 622.0,606.5 623.9,612.0 624.6,614.2 625.8,616.8 627.6,621.2 628.0,622.1 629.5,625.7 631.4,630.4 631.4,630.5 633.2,636.3 634.8,641.2 635.1,641.9 637.0,646.3 638.2,649.1 638.9,650.7 640.8,655.4 641.6,657.6 642.6,660.6 644.5,667.2 645.0,669.1 646.4,673.9 648.2,680.6 648.4,681.2 650.1,687.7 651.8,694.2 652.0,694.8 653.9,701.6 655.2,706.4 655.8,708.0 657.6,713.4 658.6,716.1 659.5,719.6 661.4,726.9 662.0,729.4 663.2,732.6 665.1,735.5 665.4,736.0 667.0,739.5 668.8,743.6 668.9,743.7 670.8,747.6 672.2,750.6 672.6,751.4 674.5,754.8 675.6,756.0 676.4,756.8 678.2,758.9 679.0,759.7 680.1,761.0 682.0,763.2 682.4,763.7 683.9,765.0 685.8,766.7 685.8,766.8 687.6,769.3 689.2,771.4 689.5,771.5 691.4,772.2 692.6,772.7 693.2,772.9 695.1,773.4 696.0,773.6 697.0,774.0 698.9,774.9 699.4,775.1 700.8,775.3 702.6,775.4 702.8,775.5 704.5,775.8 706.2,776.1 706.4,776.2 708.2,777.1 709.6,777.8 710.1,777.8 712.0,778.0 713.0,778.1 713.9,778.2 715.8,778.4 716.4,778.4 717.6,778.7 719.5,779.1 719.8,779.2 721.4,780.7 723.2,782.4 723.2,782.4 725.1,782.8 726.6,783.2 727.0,783.3 728.9,784.1 730.0,784.5 730.8,784.6 732.6,785.2 733.4,785.5 734.5,786.2 736.4,787.6 736.8,787.9 738.2,789.1 740.1,790.7 740.2,790.8 742.0,791.4 743.6,791.9 743.9,792.0 745.8,792.6 747.0,793.1 747.6,793.5 749.5,794.8 750.4,795.5 751.4,796.4 753.2,798.2 753.8,798.8 755.1,799.2 757.0,799.7 757.2,799.8 758.9,800.7 760.6,801.6 760.8,801.7 762.6,803.0 764.0,804.0 764.5,804.4 766.4,805.9 767.4,806.7 768.2,807.6 770.1,809.8 770.8,810.6 772.0,811.4 773.9,812.7 774.2,813.0 775.8,814.0 777.6,815.3 777.6,815.3 779.5,816.6 781.0,817.7 781.4,818.1 783.2,820.0 784.4,821.2 785.1,821.7 787.0,823.2 787.8,823.9 788.9,824.7 790.8,825.8 791.2,826.0 792.6,827.0 794.5,828.3 794.6,828.4 796.4,829.4 798.0,830.3 798.2,830.5 800.1,832.5 801.4,833.9 802.0,833.9 803.9,834.0 804.8,834.0 805.8,834.9 807.6,836.8 808.2,837.4 809.5,837.9 811.4,838.1 811.6,838.1 813.2,839.1 815.0,840.1 815.1,840.1 817.0,840.4 818.4,840.6 818.9,840.8 820.8,841.5 821.8,841.9 822.6,842.2 824.5,842.8 825.2,843.1 826.4,843.3 828.2,843.8 828.6,843.9 830.1,844.5 832.0,845.3 832.0,845.3 833.9,845.2 835.4,845.1 835.8,845.3 837.6,846.6 838.8,847.4 839.5,847.4 841.4,847.6 842.2,847.7 843.2,848.1 845.1,848.6 845.6,848.7 847.0,849.2 848.9,849.8 849.0,849.9 850.8,850.0 852.4,850.2 852.6,850.2 854.5,850.8 855.8,851.1 856.4,850.9 858.2,850.0 859.2,849.6 860.1,849.9 862.0,850.4 862.6,850.6 863.9,851.2 865.8,852.0 866.0,852.2 867.6,851.9 869.4,851.6 869.5,851.6 871.4,852.2 872.8,852.6 873.2,852.8 875.1,853.6 876.2,854.1 877.0,854.1 878.9,854.1 879.6,854.1 880.8,854.0 882.6,853.8 883.0,853.7 884.5,854.2 886.4,854.9 886.4,854.9 888.2,855.3 889.8,855.5 890.1,855.6 892.0,855.7 893.2,855.8 893.9,855.9 895.8,855.9 896.6,855.9 897.6,856.0 899.5,856.2 900.0,856.2 901.4,855.9 903.2,855.6 903.4,855.5 905.1,856.0 906.8,856.5 907.0,856.5 908.9,856.3 910.2,856.1 910.8,856.2 912.6,856.7 913.6,856.9 914.5,857.0 916.4,857.1 917.0,857.1 918.2,857.0 920.1,856.7 920.4,856.7 922.0,857.1 923.8,857.6 923.9,857.6 925.8,857.6 927.2,857.6 927.6,857.6 929.5,857.6 930.6,857.6 931.4,857.7 933.2,858.0 934.0,858.1 935.1,858.0 937.0,857.8 937.4,857.7 938.9,857.8 940.8,857.8 940.8,857.8 941.0,857.9" fill="none" stroke="#9a1818" stroke-width="3.2" stroke-linejoin="round" clip-path="url(#ca)"/>
<polyline points="97.0,411.4 98.9,410.2 99.8,409.6 100.8,399.5 102.6,380.1 103.2,374.4 104.5,376.2 106.4,378.8 106.6,379.0 108.2,376.8 110.0,374.5 110.1,375.7 112.0,391.0 113.4,402.2 113.9,400.9 115.8,396.4 116.8,393.9 117.6,399.3 119.5,411.2 120.2,415.3 121.4,397.0 123.2,368.3 123.6,363.4 125.1,398.6 127.0,442.7 127.0,442.4 128.9,427.2 130.4,414.9 130.8,417.7 132.6,431.4 133.8,439.8 134.5,437.7 136.4,432.2 137.2,429.9 138.2,430.7 140.1,432.1 140.6,432.1 142.0,442.4 143.9,456.0 144.0,456.7 145.8,464.1 147.4,470.9 147.6,469.6 149.5,460.2 150.8,453.8 151.4,455.1 153.2,459.0 154.2,460.9 155.1,467.8 157.0,480.4 157.6,484.2 158.9,472.0 160.8,454.3 161.0,452.2 162.6,446.7 164.4,442.0 164.5,444.0 166.4,471.9 167.8,492.7 168.2,490.1 170.1,479.9 171.2,473.6 172.0,467.4 173.9,453.5 174.6,448.3 175.8,458.8 177.6,475.5 178.0,478.5 179.5,484.1 181.4,491.0 181.4,491.0 183.2,483.9 184.8,478.1 185.1,477.7 187.0,475.0 188.2,473.3 188.9,481.3 190.8,502.6 191.6,511.9 192.6,518.9 194.5,531.4 195.0,534.5 196.4,524.3 198.2,510.7 198.4,509.8 200.1,504.6 201.8,499.2 202.0,501.1 203.9,516.5 205.2,527.2 205.8,528.7 207.6,533.7 208.6,536.3 209.5,530.0 211.4,517.4 212.0,513.4 213.2,521.5 215.1,533.4 215.4,534.9 217.0,541.3 218.8,548.2 218.9,547.3 220.8,531.6 222.2,519.8 222.6,518.1 224.5,510.9 225.6,506.8 226.4,513.6 228.2,529.7 229.0,535.8 230.1,535.0 232.0,533.8 232.4,533.6 233.9,542.6 235.8,553.9 235.8,554.0 237.6,523.1 239.2,497.4 239.5,498.9 241.4,507.2 242.6,512.4 243.2,511.6 245.1,509.4 246.0,508.4 247.0,502.0 248.9,490.3 249.4,487.2 250.8,505.3 252.6,530.4 252.8,532.3 254.5,537.8 256.2,543.2 256.4,541.4 258.2,525.5 259.6,514.4 260.1,522.9 262.0,551.6 263.0,566.5 263.9,563.3 265.8,556.8 266.4,554.6 267.6,553.5 269.5,551.8 269.8,551.6 271.4,549.8 273.2,547.7 273.2,548.0 275.1,555.6 276.6,561.5 277.0,554.6 278.9,524.9 280.0,507.6 280.8,518.4 282.6,544.2 283.4,554.5 284.5,554.6 286.4,553.7 286.8,553.4 288.2,527.8 290.1,495.5 290.2,494.8 292.0,520.7 293.6,542.9 293.9,541.4 295.8,532.5 297.0,527.1 297.6,528.4 299.5,530.9 300.4,532.0 301.4,520.3 303.2,499.7 303.8,494.2 305.1,492.1 307.0,488.7 307.2,488.4 308.9,484.3 310.6,480.0 310.8,478.3 312.6,461.9 314.0,451.1 314.5,454.6 316.4,466.4 317.4,471.9 318.2,471.1 320.1,469.8 320.8,469.5 322.0,473.0 323.9,478.0 324.2,478.8 325.8,477.1 327.6,475.6 327.6,475.9 329.5,484.4 331.0,490.4 331.4,490.4 333.2,490.9 334.4,488.0 335.1,484.7 337.0,476.7 337.8,473.5 338.9,471.4 340.8,468.0 341.2,467.3 342.6,464.3 344.5,470.1 344.6,470.4 346.4,478.1 348.0,484.9 348.2,484.4 350.1,481.4 351.4,479.5 352.0,484.0 353.9,497.4 354.8,502.4 355.8,500.1 357.6,495.8 358.2,494.5 359.5,491.1 361.4,486.3 361.6,485.8 363.2,481.2 365.0,480.9 365.1,481.7 367.0,490.3 368.4,496.6 368.9,495.3 370.8,488.6 371.8,483.5 372.6,484.7 374.5,487.4 375.2,488.3 376.4,488.1 378.2,487.7 378.6,487.6 380.1,479.0 382.0,472.1 382.0,472.1 383.9,477.0 385.4,481.0 385.8,480.7 387.6,479.2 388.8,478.2 389.5,480.5 391.4,486.2 392.2,488.6 393.2,491.4 395.1,496.3 395.6,497.5 397.0,499.5 398.9,502.2 399.0,502.3 400.8,493.5 402.4,485.5 402.6,486.1 404.5,490.8 405.8,493.9 406.4,495.5 408.2,499.1 409.2,500.6 410.1,501.5 412.0,503.4 412.6,504.0 413.9,501.3 415.8,497.5 416.0,497.0 417.6,493.7 419.4,487.6 419.5,487.5 421.4,486.2 422.8,485.1 423.2,483.8 425.1,478.9 426.2,476.1 427.0,474.2 428.9,470.2 429.6,468.8 430.8,465.8 432.6,461.1 433.0,460.3 434.5,459.6 436.4,458.6 436.4,458.6 438.2,454.9 439.8,451.9 440.1,451.1 442.0,446.8 443.2,444.1 443.9,442.7 445.8,439.4 446.6,438.1 447.6,435.2 449.5,430.2 450.0,429.0 451.4,428.1 453.2,426.9 453.4,426.8 455.1,427.2 456.8,427.4 457.0,426.8 458.9,421.2 460.2,416.4 460.8,414.4 462.6,407.9 463.6,404.7 464.5,405.0 466.4,405.3 467.0,404.9 468.2,399.9 470.1,392.6 470.4,391.6 472.0,388.4 473.8,384.8 473.9,384.3 475.8,374.9 477.2,369.0 477.6,367.8 479.5,362.6 480.6,359.7 481.4,357.2 483.2,351.5 484.0,349.3 485.1,349.1 487.0,348.5 487.4,348.4 488.9,346.8 490.8,345.8 490.8,345.8 492.6,340.8 494.2,337.0 494.5,336.7 496.4,335.6 497.6,334.8 498.2,334.8 500.1,334.5 501.0,334.4 502.0,332.8 503.9,330.1 504.4,329.5 505.8,329.0 507.6,328.3 507.8,328.2 509.5,327.0 511.2,325.9 511.4,325.8 513.2,325.1 514.6,324.6 515.1,324.5 517.0,324.0 518.0,323.8 518.9,322.8 520.8,320.8 521.4,320.1 522.6,320.0 524.5,319.8 524.8,319.7 526.4,317.8 528.2,315.6 528.2,315.6 530.1,315.2 531.6,317.7 532.0,317.9 533.9,318.7 535.0,319.1 535.8,319.5 537.6,317.0 538.4,316.0 539.5,315.5 541.4,318.1 541.8,319.5 543.2,321.9 545.1,325.0 545.2,325.1 547.0,332.3 548.6,346.2 548.9,347.4 550.8,349.0 552.0,350.0 552.6,350.8 554.5,353.0 555.4,356.7 556.4,363.2 558.2,373.5 558.8,373.5 560.1,373.8 562.0,374.2 562.2,374.3 563.9,375.4 565.6,378.7 565.8,379.0 567.6,385.3 569.0,390.3 569.5,392.4 571.4,399.6 572.4,402.6 573.2,405.3 575.1,411.0 575.8,413.0 577.0,416.5 578.9,421.8 579.2,422.7 580.8,427.6 582.6,433.2 582.6,433.4 584.5,439.1 586.0,443.6 586.4,444.9 588.2,451.1 589.4,454.8 590.1,457.3 592.0,463.3 592.8,465.7 593.9,469.1 595.8,474.7 596.2,476.0 597.6,481.3 599.5,489.6 599.6,489.9 601.4,497.7 603.0,504.6 603.2,505.8 605.1,514.1 606.4,519.5 607.0,522.2 608.9,529.9 609.8,533.6 610.8,537.5 612.6,545.0 613.2,547.0 614.5,551.9 616.4,558.7 616.6,559.4 618.2,566.4 620.0,573.6 620.1,574.1 622.0,580.5 623.4,585.2 623.9,587.2 625.8,594.1 626.8,597.9 627.6,601.0 629.5,607.7 630.2,610.0 631.4,613.6 633.2,619.2 633.6,620.2 635.1,626.0 637.0,633.0 637.0,633.1 638.9,639.8 640.4,645.4 640.8,646.8 642.6,653.9 643.8,658.2 644.5,661.0 646.4,668.0 647.2,671.0 648.2,674.9 650.1,681.8 650.6,683.5 652.0,688.8 653.9,696.3 654.0,696.8 655.8,704.9 657.4,712.3 657.6,713.6 659.5,723.2 660.8,729.7 661.4,732.4 663.2,740.7 664.2,744.7 665.1,749.2 667.0,753.9 667.6,755.1 668.9,757.5 670.8,761.0 671.0,761.4 672.6,765.0 674.4,768.6 674.5,768.9 676.4,772.1 677.8,774.5 678.2,775.3 680.1,778.2 681.2,779.9 682.0,781.3 683.9,784.5 684.6,785.1 685.8,785.9 687.6,787.3 688.0,787.5 689.5,788.5 691.4,789.7 691.4,789.7 693.2,791.2 694.8,792.5 695.1,792.7 697.0,794.0 698.2,794.5 698.9,794.9 700.8,795.7 701.6,796.1 702.6,796.4 704.5,796.8 705.0,796.9 706.4,797.5 708.2,798.2 708.4,798.3 710.1,798.2 711.8,798.2 712.0,798.3 713.9,799.6 715.2,800.5 715.8,800.5 717.6,800.4 718.6,800.4 719.5,800.6 721.4,801.1 722.0,801.3 723.2,801.7 725.1,802.4 725.4,802.4 727.0,802.8 728.8,803.1 728.9,803.1 730.8,803.9 732.2,804.5 732.6,804.5 734.5,804.7 735.6,804.9 736.4,805.1 738.2,805.5 739.0,805.7 740.1,806.2 742.0,806.9 742.4,807.0 743.9,808.1 745.8,809.4 745.8,809.4 747.6,809.6 749.2,809.8 749.5,809.8 751.4,810.1 752.6,810.2 753.2,810.6 755.1,811.6 756.0,812.1 757.0,812.1 758.9,812.3 759.4,812.3 760.8,813.5 762.6,815.2 762.8,815.4 764.5,815.0 766.2,814.6 766.4,814.7 768.2,816.0 769.6,816.8 770.1,817.0 772.0,817.7 773.0,818.0 773.9,818.0 775.8,818.0 776.4,818.0 777.6,818.8 779.5,820.0 779.8,820.1 781.4,820.9 783.2,821.7 783.2,821.7 785.1,822.2 786.6,822.5 787.0,822.7 788.9,823.2 790.0,823.7 790.8,824.2 792.6,825.5 793.4,825.9 794.5,826.4 796.4,827.2 796.8,827.3 798.2,828.1 800.1,829.2 800.2,829.2 802.0,830.1 803.6,830.8 803.9,831.0 805.8,832.2 807.0,833.0 807.6,833.2 809.5,833.6 810.4,833.6 811.4,834.1 813.2,835.1 813.8,835.4 815.1,835.5 817.0,835.6 817.2,835.6 818.9,835.8 820.6,836.1 820.8,836.2 822.6,837.1 824.0,837.8 824.5,838.0 826.4,838.9 827.4,839.3 828.2,839.5 830.1,839.7 830.8,839.8 832.0,839.8 833.9,839.9 834.2,839.9 835.8,840.6 837.6,841.4 837.6,841.4 839.5,841.5 841.0,841.6 841.4,841.7 843.2,842.3 844.4,842.5 845.1,842.7 847.0,843.0 847.8,843.2 848.9,843.0 850.8,842.7 851.2,842.6 852.6,843.4 854.5,844.3 854.6,844.3 856.4,844.3 858.0,844.3 858.2,844.3 860.1,844.7 861.4,845.0 862.0,845.0 863.9,845.1 864.8,845.1 865.8,845.3 867.6,845.6 868.2,845.7 869.5,846.0 871.4,846.5 871.6,846.5 873.2,847.2 875.0,848.0 875.1,848.0 877.0,848.5 878.4,848.9 878.9,848.9 880.8,848.7 881.8,848.6 882.6,848.9 884.5,849.5 885.2,849.7 886.4,849.7 888.2,849.6 888.6,849.6 890.1,849.4 892.0,849.3 892.0,849.3 893.9,850.2 895.4,850.8 895.8,850.9 897.6,851.1 898.8,851.3 899.5,851.2 901.4,851.2 902.2,851.2 903.2,851.4 905.1,851.7 905.6,851.8 907.0,852.0 908.9,852.3 909.0,852.3 910.8,852.1 912.4,851.9 912.6,851.9 914.5,851.9 915.8,851.9 916.4,852.1 918.2,852.6 919.2,852.8 920.1,852.9 922.0,853.1 922.6,853.2 923.9,853.3 925.8,853.4 926.0,853.4 927.6,853.9 929.4,854.4 929.5,854.4 931.4,854.8 932.8,855.0 933.2,854.9 935.1,854.5 936.2,854.3 937.0,854.5 938.9,855.0 939.6,855.2 940.8,855.3 941.0,855.3" fill="none" stroke="#e8842c" stroke-width="3.2" stroke-linejoin="round" clip-path="url(#ca)"/>
<polyline points="97.0,421.3 98.9,414.2 100.0,410.0 100.8,408.5 102.6,404.8 103.4,403.3 104.5,407.7 106.4,415.2 106.8,416.8 108.2,386.9 110.1,349.1 110.2,348.2 112.0,356.9 113.6,364.5 113.9,363.5 115.8,356.7 117.0,352.3 117.6,358.1 119.5,375.0 120.4,383.2 121.4,392.9 123.2,411.2 123.8,416.3 125.1,410.1 127.0,401.5 127.2,400.7 128.9,410.5 130.6,420.4 130.8,417.9 132.6,391.3 134.0,371.9 134.5,380.5 136.4,410.3 137.4,426.1 138.2,421.1 140.1,410.3 140.8,406.6 142.0,431.8 143.9,470.7 144.2,477.0 145.8,470.3 147.6,462.6 147.6,462.7 149.5,467.3 151.0,470.9 151.4,468.8 153.2,459.1 154.4,453.2 155.1,458.2 157.0,470.9 157.8,476.2 158.9,478.7 160.8,482.3 161.2,482.9 162.6,473.8 164.5,462.8 164.6,462.4 166.4,463.2 168.0,463.9 168.2,465.1 170.1,473.3 171.4,478.6 172.0,477.3 173.9,473.1 174.8,471.1 175.8,472.6 177.6,475.4 178.2,476.2 179.5,481.2 181.4,488.3 181.6,489.0 183.2,485.9 185.0,482.6 185.1,484.3 187.0,506.2 188.4,522.2 188.9,513.6 190.8,481.1 191.8,463.4 192.6,479.1 194.5,514.0 195.2,526.5 196.4,514.0 198.2,494.4 198.6,491.0 200.1,492.5 202.0,493.5 202.0,493.4 203.9,481.9 205.4,472.7 205.8,476.1 207.6,493.1 208.8,503.9 209.5,503.5 211.4,502.6 212.2,502.2 213.2,506.0 215.1,512.7 215.6,514.3 217.0,506.9 218.9,497.3 219.0,496.7 220.8,505.6 222.4,513.7 222.6,517.0 224.5,541.7 225.8,558.6 226.4,552.4 228.2,533.1 229.2,523.7 230.1,517.4 232.0,505.0 232.6,501.2 233.9,517.0 235.8,539.9 236.0,542.7 237.6,530.6 239.4,517.7 239.5,518.5 241.4,530.1 242.8,538.7 243.2,539.1 245.1,540.8 246.2,541.8 247.0,536.2 248.9,523.5 249.6,518.8 250.8,506.1 252.6,484.9 253.0,480.9 254.5,499.2 256.4,521.8 256.4,521.8 258.2,534.7 259.8,545.3 260.1,542.9 262.0,530.2 263.2,522.3 263.9,526.7 265.8,538.7 266.6,543.9 267.6,548.4 269.5,556.4 270.0,558.5 271.4,542.8 273.2,521.9 273.4,520.5 275.1,544.5 276.8,567.2 277.0,567.9 278.9,574.2 280.2,578.6 280.8,576.5 282.6,569.6 283.6,566.1 284.5,567.1 286.4,568.0 287.0,568.2 288.2,567.0 290.1,565.3 290.4,565.1 292.0,575.4 293.8,586.8 293.9,585.4 295.8,558.6 297.2,537.6 297.6,533.9 299.5,518.8 300.6,511.2 301.4,510.1 303.2,507.0 304.0,505.6 305.1,489.7 307.0,465.5 307.4,460.8 308.9,449.5 310.8,436.0 310.8,435.9 312.6,435.4 314.2,437.8 314.5,438.9 316.4,444.3 317.6,446.9 318.2,445.8 320.1,442.9 321.0,441.6 322.0,434.1 323.9,421.3 324.4,418.1 325.8,415.1 327.6,411.2 327.8,410.8 329.5,414.5 331.2,418.7 331.4,418.6 333.2,418.0 334.6,417.4 335.1,417.2 337.0,416.6 338.0,416.2 338.9,416.8 340.8,417.9 341.4,418.3 342.6,418.7 344.5,418.8 344.8,418.8 346.4,415.3 348.2,415.1 348.2,415.3 350.1,419.6 351.6,422.9 352.0,422.3 353.9,419.7 355.0,418.2 355.8,419.4 357.6,422.1 358.4,423.2 359.5,427.8 361.4,435.5 361.8,437.2 363.2,439.7 365.1,436.3 365.2,436.2 367.0,435.1 368.6,436.6 368.9,436.7 370.8,437.9 372.0,438.6 372.6,439.4 374.5,441.6 375.4,442.7 376.4,443.5 378.2,445.2 378.8,445.7 380.1,440.7 382.0,433.3 382.2,432.6 383.9,436.4 385.6,440.1 385.8,440.5 387.6,445.2 389.0,448.5 389.5,448.9 391.4,450.1 392.4,450.7 393.2,447.9 395.1,441.7 395.8,439.5 397.0,445.8 398.9,452.3 399.2,453.3 400.8,446.9 402.6,439.5 402.6,439.4 404.5,437.8 406.0,436.5 406.4,436.4 408.2,435.8 409.4,435.8 410.1,436.1 412.0,437.1 412.8,437.5 413.9,432.9 415.8,425.2 416.2,423.5 417.6,429.1 419.5,436.1 419.6,436.4 421.4,432.8 423.0,429.3 423.2,428.8 425.1,425.0 426.4,422.6 427.0,422.7 428.9,421.1 429.8,420.3 430.8,416.2 432.6,408.6 433.2,406.4 434.5,406.9 436.4,407.5 436.6,407.6 438.2,406.8 440.0,406.2 440.1,405.8 442.0,401.1 443.4,397.7 443.9,397.3 445.8,396.2 446.8,395.6 447.6,394.9 449.5,393.2 450.2,392.5 451.4,391.4 453.2,389.6 453.6,389.3 455.1,389.2 457.0,389.0 457.0,388.9 458.9,384.2 460.4,380.4 460.8,379.9 462.6,377.0 463.8,375.2 464.5,374.9 466.4,374.1 467.2,373.7 468.2,374.0 470.1,370.5 470.6,369.5 472.0,361.0 473.9,349.9 474.0,349.3 475.8,344.7 477.4,343.5 477.6,342.6 479.5,336.5 480.8,332.5 481.4,333.5 483.2,336.1 484.2,337.3 485.1,335.5 487.0,331.9 487.6,330.8 488.9,331.3 490.8,333.1 491.0,333.3 492.6,332.5 494.4,331.7 494.5,331.6 496.4,331.4 497.8,331.3 498.2,332.1 500.1,334.8 501.2,335.5 502.0,334.9 503.9,333.4 504.6,332.8 505.8,331.0 507.6,328.2 508.0,327.6 509.5,326.1 511.4,325.5 511.4,325.5 513.2,328.7 514.8,331.2 515.1,331.3 517.0,332.0 518.2,332.4 518.9,333.6 520.8,335.5 521.6,335.3 522.6,332.6 524.5,328.7 525.0,328.6 526.4,330.3 528.2,332.4 528.4,332.6 530.1,334.9 531.8,337.6 532.0,337.8 533.9,339.0 535.2,339.5 535.8,340.3 537.6,342.9 538.6,344.3 539.5,346.4 541.4,348.8 542.0,348.8 543.2,346.2 545.1,344.7 545.4,345.4 547.0,350.7 548.8,356.3 548.9,356.2 550.8,355.1 552.2,354.2 552.6,354.5 554.5,355.6 555.6,360.0 556.4,364.2 558.2,374.1 559.0,377.9 560.1,379.1 562.0,381.0 562.4,381.4 563.9,382.8 565.8,385.5 565.8,385.6 567.6,390.7 569.2,395.0 569.5,395.9 571.4,400.7 572.6,404.3 573.2,406.1 575.1,411.2 576.0,413.5 577.0,416.9 578.9,423.0 579.4,424.6 580.8,428.0 582.6,432.6 582.8,432.9 584.5,438.3 586.2,443.5 586.4,444.2 588.2,450.6 589.6,455.3 590.1,457.1 592.0,463.4 593.0,466.7 593.9,469.5 595.8,475.3 596.4,477.3 597.6,481.8 599.5,489.9 599.8,491.2 601.4,498.2 603.2,506.1 603.2,506.4 605.1,514.1 606.6,520.1 607.0,521.9 608.9,529.7 610.0,534.3 610.8,537.7 612.6,545.9 613.4,548.8 614.5,552.8 616.4,559.5 616.8,561.0 618.2,565.9 620.1,572.2 620.2,572.4 622.0,579.4 623.6,585.4 623.9,586.6 625.8,593.7 627.0,598.4 627.6,600.4 629.5,606.1 630.4,608.8 631.4,612.5 633.2,619.6 633.8,621.5 635.1,626.2 637.0,632.6 637.2,633.2 638.9,639.1 640.6,645.3 640.8,646.0 642.6,652.9 644.0,658.0 644.5,660.0 646.4,667.5 647.4,671.4 648.2,674.7 650.1,681.8 650.8,684.3 652.0,688.8 653.9,696.4 654.2,697.8 655.8,705.0 657.6,713.3 657.6,713.5 659.5,723.1 661.0,730.3 661.4,731.5 663.2,737.5 664.4,741.0 665.1,743.4 667.0,749.3 667.8,751.8 668.9,754.1 670.8,757.8 671.2,758.6 672.6,761.6 674.5,765.2 674.6,765.4 676.4,768.5 678.0,771.3 678.2,771.8 680.1,774.9 681.4,777.0 682.0,777.8 683.9,780.5 684.8,780.9 685.8,781.7 687.6,783.3 688.2,783.8 689.5,784.5 691.4,785.5 691.6,785.6 693.2,786.3 695.0,787.1 695.1,787.2 697.0,788.5 698.4,789.1 698.9,789.5 700.8,791.0 701.8,791.9 702.6,791.5 704.5,790.7 705.2,790.5 706.4,790.5 708.2,790.5 708.6,790.5 710.1,791.1 712.0,791.7 712.0,791.7 713.9,792.4 715.4,793.0 715.8,792.9 717.6,792.4 718.8,792.0 719.5,792.1 721.4,792.2 722.2,792.3 723.2,792.2 725.1,792.1 725.6,792.2 727.0,792.8 728.9,793.5 729.0,793.5 730.8,794.5 732.4,795.5 732.6,795.5 734.5,796.0 735.8,796.3 736.4,796.4 738.2,796.8 739.2,797.0 740.1,797.5 742.0,798.5 742.6,798.8 743.9,799.4 745.8,800.1 746.0,800.2 747.6,800.5 749.4,800.8 749.5,800.8 751.4,801.7 752.8,802.3 753.2,802.5 755.1,803.2 756.2,803.9 757.0,804.2 758.9,805.1 759.6,805.4 760.8,806.5 762.6,808.2 763.0,808.5 764.5,809.1 766.4,809.8 766.4,809.8 768.2,810.8 769.8,811.6 770.1,811.8 772.0,812.6 773.2,813.1 773.9,813.5 775.8,814.8 776.6,815.4 777.6,816.6 779.5,818.7 780.0,819.2 781.4,819.5 783.2,819.9 783.4,819.9 785.1,821.5 786.8,823.0 787.0,823.1 788.9,824.0 790.2,824.7 790.8,825.1 792.6,826.5 793.6,827.2 794.5,827.8 796.4,828.9 797.0,829.3 798.2,829.8 800.1,830.5 800.4,830.5 802.0,831.7 803.8,832.9 803.9,832.9 805.8,834.2 807.2,835.1 807.6,835.4 809.5,836.4 810.6,836.7 811.4,836.9 813.2,837.4 814.0,837.6 815.1,837.9 817.0,838.4 817.4,838.4 818.9,839.1 820.8,840.0 820.8,840.0 822.6,840.7 824.2,841.3 824.5,841.4 826.4,841.7 827.6,841.9 828.2,841.9 830.1,842.1 831.0,842.2 832.0,842.7 833.9,843.5 834.4,843.8 835.8,844.1 837.6,844.5 837.8,844.6 839.5,845.2 841.2,845.8 841.4,845.9 843.2,846.8 844.6,847.3 845.1,847.2 847.0,846.9 848.0,846.7 848.9,846.8 850.8,847.2 851.4,847.3 852.6,847.3 854.5,847.4 854.8,847.4 856.4,847.7 858.2,848.2 858.2,848.2 860.1,848.4 861.6,848.6 862.0,848.8 863.9,849.7 865.0,850.2 865.8,850.2 867.6,850.1 868.4,850.0 869.5,850.1 871.4,850.1 871.8,850.1 873.2,850.9 875.1,851.9 875.2,851.9 877.0,851.3 878.6,850.8 878.9,850.9 880.8,851.8 882.0,852.4 882.6,852.5 884.5,852.9 885.4,853.0 886.4,853.1 888.2,853.3 888.8,853.3 890.1,853.4 892.0,853.4 892.2,853.4 893.9,853.8 895.6,853.9 895.8,853.9 897.6,853.9 899.0,854.0 899.5,854.1 901.4,854.5 902.4,854.7 903.2,854.4 905.1,853.7 905.8,853.5 907.0,853.8 908.9,854.3 909.2,854.4 910.8,854.6 912.6,854.9 912.6,854.9 914.5,854.8 916.0,854.7 916.4,854.6 918.2,854.4 919.4,854.2 920.1,854.4 922.0,854.9 922.8,855.1 923.9,855.1 925.8,855.0 926.2,855.0 927.6,855.4 929.5,855.9 929.6,855.9 931.4,856.1 933.0,856.3 933.2,856.3 935.1,856.0 936.4,855.8 937.0,855.7 938.9,855.2 939.8,855.0 940.8,855.2 941.0,855.3" fill="none" stroke="#a89a24" stroke-width="3.2" stroke-linejoin="round" clip-path="url(#ca)"/>
<polyline points="1115.0,303.2 1116.9,302.2 1117.8,301.6 1118.8,299.8 1120.6,302.7 1121.2,307.7 1122.5,325.1 1124.4,350.7 1124.6,354.1 1126.2,373.6 1128.0,375.5 1128.1,374.6 1130.0,359.4 1131.4,347.8 1131.9,343.0 1133.8,322.9 1134.8,311.5 1135.6,307.9 1137.5,299.4 1138.2,298.8 1139.4,303.3 1141.2,310.5 1141.6,312.0 1143.1,312.8 1145.0,309.8 1145.0,309.8 1146.9,313.1 1148.4,315.8 1148.8,316.9 1150.6,315.8 1151.8,305.5 1152.5,297.4 1154.4,274.8 1155.2,264.6 1156.2,254.9 1158.1,237.0 1158.6,232.3 1160.0,220.4 1161.9,215.3 1162.0,215.9 1163.8,220.3 1165.4,224.5 1165.6,224.5 1167.5,224.4 1168.8,224.4 1169.4,225.9 1171.2,226.2 1172.2,210.6 1173.1,195.9 1175.0,165.4 1175.6,155.2 1176.9,155.2 1178.8,167.6 1179.0,169.4 1180.6,186.1 1182.4,217.5 1182.5,218.8 1184.4,242.2 1185.8,236.6 1186.2,236.0 1188.1,234.7 1189.2,246.1 1190.0,252.0 1191.9,266.1 1192.6,271.7 1193.8,281.3 1195.6,297.4 1196.0,300.8 1197.5,308.7 1199.4,317.8 1199.4,318.0 1201.2,333.1 1202.8,346.2 1203.1,348.8 1205.0,364.8 1206.2,373.5 1206.9,378.7 1208.8,394.4 1209.6,402.0 1210.6,404.4 1212.5,408.9 1213.0,410.1 1214.4,426.9 1216.2,443.3 1216.4,444.5 1218.1,438.2 1219.8,432.0 1220.0,432.1 1221.9,433.1 1223.2,433.8 1223.8,433.7 1225.6,433.8 1226.6,434.1 1227.5,435.7 1229.4,439.1 1230.0,440.2 1231.2,442.6 1233.1,446.2 1233.4,446.8 1235.0,441.6 1236.8,435.6 1236.9,436.0 1238.8,447.2 1240.2,454.7 1240.6,451.8 1242.5,438.2 1243.6,430.1 1244.4,432.2 1246.2,437.5 1247.0,439.7 1248.1,436.1 1250.0,429.9 1250.4,428.6 1251.9,426.9 1253.8,424.7 1253.8,424.6 1255.6,426.4 1257.2,428.1 1257.5,427.4 1259.4,422.6 1260.6,419.4 1261.2,421.0 1263.1,426.0 1264.0,429.2 1265.0,423.3 1266.9,412.0 1267.4,408.7 1268.8,412.1 1270.6,417.7 1270.8,418.3 1272.5,419.0 1274.2,419.7 1274.4,420.3 1276.2,428.1 1277.6,433.7 1278.1,433.3 1280.0,431.7 1281.0,430.9 1281.9,429.0 1283.8,424.7 1284.4,423.2 1285.6,426.7 1287.5,432.1 1287.8,433.0 1289.4,429.9 1291.2,426.1 1291.2,426.0 1293.1,417.5 1294.6,410.8 1295.0,411.9 1296.9,417.6 1298.0,421.1 1298.8,422.9 1300.6,427.5 1301.4,429.5 1302.5,424.3 1304.4,415.2 1304.8,413.1 1306.2,421.1 1308.1,431.6 1308.2,432.2 1310.0,426.4 1311.6,421.2 1311.9,420.5 1313.8,415.3 1315.0,411.8 1315.6,413.6 1317.5,418.9 1318.4,421.2 1319.4,415.3 1321.2,403.9 1321.8,400.4 1323.1,402.8 1325.0,406.4 1325.2,406.8 1326.9,404.3 1328.6,401.7 1328.8,402.2 1330.6,406.7 1332.0,406.3 1332.5,402.3 1334.4,386.5 1335.4,377.9 1336.2,374.8 1338.1,376.2 1338.8,376.8 1340.0,384.5 1341.9,396.3 1342.2,398.5 1343.8,398.7 1345.6,399.1 1345.6,399.1 1347.5,401.9 1349.0,404.2 1349.4,404.1 1351.2,403.8 1352.4,403.5 1353.1,405.5 1355.0,410.7 1355.8,412.9 1356.9,410.6 1358.8,406.7 1359.2,405.7 1360.6,402.6 1362.5,398.6 1362.6,398.3 1364.4,407.1 1366.0,415.3 1366.2,414.5 1368.1,408.3 1369.4,404.1 1370.0,405.4 1371.9,409.9 1372.8,412.1 1373.8,410.2 1375.6,406.0 1376.2,404.4 1377.5,403.9 1379.4,403.1 1379.6,403.0 1381.2,394.2 1383.0,384.6 1383.1,384.6 1385.0,383.5 1386.4,382.6 1386.9,383.2 1388.8,385.2 1389.8,386.4 1390.6,384.4 1392.5,379.7 1393.2,377.9 1394.4,376.9 1396.2,375.3 1396.6,375.0 1398.1,376.0 1400.0,376.1 1400.0,376.1 1401.9,361.5 1403.4,349.5 1403.8,349.8 1405.6,351.3 1406.8,352.3 1407.5,353.1 1409.4,355.3 1410.2,356.3 1411.2,350.4 1413.1,340.0 1413.6,337.4 1415.0,336.2 1416.9,334.5 1417.0,334.4 1418.8,332.3 1420.4,330.3 1420.6,329.9 1422.5,326.3 1423.8,323.7 1424.4,322.7 1426.2,316.8 1427.2,313.2 1428.1,308.0 1430.0,297.5 1430.6,294.1 1431.9,291.8 1433.8,289.3 1434.0,289.1 1435.6,283.2 1437.4,276.7 1437.5,276.7 1439.4,277.5 1440.8,277.9 1441.2,275.7 1443.1,266.1 1444.2,260.5 1445.0,259.5 1446.9,256.9 1447.6,255.8 1448.8,252.4 1450.6,246.7 1451.0,245.5 1452.5,244.2 1454.4,242.4 1454.4,242.4 1456.2,233.9 1457.8,224.9 1458.1,223.7 1460.0,216.5 1461.2,211.8 1461.9,207.8 1463.8,198.4 1464.6,195.2 1465.6,193.2 1467.5,189.6 1468.0,188.7 1469.4,185.1 1471.2,180.6 1471.4,180.4 1473.1,180.2 1474.8,180.0 1475.0,179.8 1476.9,177.7 1478.2,176.2 1478.8,175.2 1480.6,174.7 1481.6,174.9 1482.5,175.7 1484.4,177.6 1485.0,178.2 1486.2,182.2 1488.1,188.9 1488.4,189.9 1490.0,192.5 1491.8,196.1 1491.9,196.2 1493.8,200.1 1495.2,203.2 1495.6,205.6 1497.5,221.9 1498.6,231.4 1499.4,235.8 1501.2,246.8 1502.0,251.4 1503.1,259.5 1505.0,279.9 1505.4,284.4 1506.9,298.3 1508.8,316.4 1508.8,317.1 1510.6,335.0 1512.2,350.9 1512.5,353.7 1514.4,372.6 1515.6,385.1 1516.2,391.4 1518.1,410.2 1519.0,419.3 1520.0,429.1 1521.9,448.0 1522.4,452.7 1523.8,463.5 1525.6,478.7 1525.8,480.3 1527.5,492.2 1529.2,504.4 1529.4,505.7 1531.2,521.9 1532.6,533.6 1533.1,536.3 1535.0,546.3 1536.0,551.7 1536.9,556.9 1538.8,568.4 1539.4,572.5 1540.6,580.2 1542.5,592.2 1542.8,594.3 1544.4,601.1 1546.2,609.4 1546.2,609.5 1548.1,618.8 1549.6,624.2 1550.0,625.6 1551.9,632.5 1553.0,636.7 1553.8,638.7 1555.6,643.9 1556.4,646.2 1557.5,651.4 1559.4,660.5 1559.8,662.6 1561.2,665.1 1563.1,668.3 1563.2,668.5 1565.0,674.6 1566.6,680.2 1566.9,680.7 1568.8,684.6 1570.0,687.2 1570.6,689.1 1572.5,694.9 1573.4,696.7 1574.4,697.9 1576.2,700.2 1576.8,701.0 1578.1,702.3 1580.0,704.3 1580.2,704.5 1581.9,707.2 1583.6,710.1 1583.8,710.2 1585.6,712.2 1587.0,713.7 1587.5,714.4 1589.4,717.1 1590.4,718.6 1591.2,720.2 1593.1,723.8 1593.8,725.1 1595.0,725.5 1596.9,726.2 1597.2,726.4 1598.8,727.9 1600.6,729.7 1600.6,729.8 1602.5,733.0 1604.0,735.6 1604.4,735.8 1606.2,736.5 1607.4,737.0 1608.1,737.8 1610.0,740.0 1610.8,741.0 1611.9,742.4 1613.8,744.9 1614.2,745.5 1615.6,746.2 1617.5,747.1 1617.6,747.2 1619.4,748.9 1621.0,750.5 1621.2,750.9 1623.1,753.8 1624.4,755.4 1625.0,755.5 1626.9,755.8 1627.8,756.0 1628.8,756.7 1630.6,758.0 1631.2,758.4 1632.5,759.0 1634.4,759.9 1634.6,760.0 1636.2,761.4 1638.0,762.9 1638.1,762.9 1640.0,763.1 1641.4,763.3 1641.9,763.8 1643.8,765.8 1644.8,766.9 1645.6,767.6 1647.5,769.1 1648.2,769.7 1649.4,770.4 1651.2,771.6 1651.6,771.8 1653.1,772.2 1655.0,772.8 1655.0,772.8 1656.9,774.4 1658.4,775.1 1658.8,775.3 1660.6,776.3 1661.8,776.9 1662.5,776.7 1664.4,776.3 1665.2,776.1 1666.2,776.4 1668.1,777.0 1668.6,777.1 1670.0,777.0 1671.9,776.9 1672.0,776.9 1673.8,776.7 1675.4,776.4 1675.6,776.6 1677.5,778.0 1678.8,779.0 1679.4,778.9 1681.2,778.5 1682.2,778.3 1683.1,778.5 1685.0,779.0 1685.6,779.1 1686.9,779.6 1688.8,780.3 1689.0,780.4 1690.6,780.7 1692.4,781.0 1692.5,781.0 1694.4,781.4 1695.8,781.6 1696.2,781.9 1698.1,782.8 1699.2,783.3 1700.0,783.2 1701.9,782.9 1702.6,782.8 1703.8,782.9 1705.6,783.0 1706.0,783.1 1707.5,782.8 1709.4,782.5 1709.4,782.5 1711.2,783.5 1712.8,784.3 1713.1,784.2 1715.0,783.4 1716.2,782.9 1716.9,782.8 1718.8,782.7 1719.6,782.6 1720.6,783.0 1722.5,783.6 1723.0,783.8 1724.4,784.4 1726.2,785.2 1726.4,785.2 1728.1,785.3 1729.8,785.3 1730.0,785.3 1731.9,785.8 1733.2,786.2 1733.8,786.1 1735.6,785.9 1736.6,785.8 1737.5,785.9 1739.4,786.0 1740.0,786.0 1741.2,786.1 1743.1,786.2 1743.4,786.2 1745.0,786.0 1746.8,785.7 1746.9,785.8 1748.8,786.0 1750.2,786.5 1750.6,786.7 1752.5,787.5 1753.6,788.1 1754.4,788.5 1756.2,789.7 1757.0,790.2 1758.1,790.4 1760.0,790.9 1760.4,791.0 1761.9,791.8 1763.8,792.8 1763.8,792.9 1765.6,793.9 1767.2,794.8 1767.5,794.9 1769.4,795.5 1770.6,795.9 1771.2,796.2 1773.1,796.9 1774.0,797.2 1775.0,797.6 1776.9,798.4 1777.4,798.6 1778.8,798.8 1780.6,799.1 1780.8,799.2 1782.5,799.8 1784.2,800.4 1784.4,800.5 1786.2,801.8 1787.6,802.7 1788.1,803.2 1790.0,805.0 1791.0,806.0 1791.9,806.5 1793.8,807.5 1794.4,807.9 1795.6,808.5 1797.5,809.4 1797.8,809.5 1799.4,810.6 1801.2,811.9 1801.2,811.9 1803.1,813.1 1804.6,814.1 1805.0,814.1 1806.9,814.2 1808.0,814.3 1808.8,815.1 1810.6,817.2 1811.4,818.1 1812.5,819.3 1814.4,821.4 1814.8,821.9 1816.2,823.3 1818.1,825.2 1818.2,825.3 1820.0,826.2 1821.6,826.9 1821.9,827.2 1823.8,829.3 1825.0,830.7 1825.6,831.1 1827.5,832.3 1828.4,832.9 1829.4,833.5 1831.2,834.4 1831.8,834.5 1833.1,834.8 1835.0,835.1 1835.2,835.1 1836.9,835.8 1838.6,836.6 1838.8,836.7 1840.6,837.8 1842.0,838.7 1842.5,838.9 1844.4,839.8 1845.4,840.4 1846.2,840.7 1848.1,841.4 1848.8,841.7 1850.0,842.4 1851.9,843.5 1852.2,843.7 1853.8,844.3 1855.6,844.9 1855.6,844.9 1857.5,845.3 1859.0,845.6 1859.4,845.7 1861.2,846.4 1862.4,846.9 1863.1,847.1 1865.0,847.6 1865.8,847.8 1866.9,847.7 1868.8,847.4 1869.2,847.4 1870.6,847.9 1872.5,848.7 1872.6,848.8 1874.4,849.8 1876.0,850.9 1876.2,850.9 1878.1,851.7 1879.4,852.2 1880.0,852.3 1881.9,852.6 1882.8,852.7 1883.8,853.0 1885.6,853.2 1886.2,853.2 1887.5,853.5 1889.4,854.0 1889.6,854.0 1891.2,854.3 1893.0,854.7 1893.1,854.7 1895.0,854.8 1896.4,854.9 1896.9,854.8 1898.8,854.3 1899.8,854.0 1900.6,854.5 1902.5,855.5 1903.2,856.0 1904.4,856.2 1906.2,856.6 1906.6,856.7 1908.1,856.7 1910.0,856.8 1910.0,856.8 1911.9,857.7 1913.4,858.5 1913.8,858.3 1915.6,857.4 1916.8,856.7 1917.5,856.7 1919.4,856.6 1920.2,856.6 1921.2,857.4 1923.1,858.8 1923.6,859.2 1925.0,858.5 1926.9,857.5 1927.0,857.4 1928.8,857.2 1930.4,857.0 1930.6,857.0 1932.5,857.6 1933.8,858.0 1934.4,858.1 1936.2,858.7 1937.2,859.0 1938.1,858.7 1940.0,858.3 1940.6,858.1 1941.9,858.2 1943.8,858.4 1944.0,858.4 1945.6,858.8 1947.4,859.3 1947.5,859.3 1949.4,859.7 1950.8,860.1 1951.2,860.0 1953.1,859.7 1954.2,859.5 1955.0,859.5 1956.9,859.4 1957.6,859.4 1958.8,859.3 1960.6,859.2 1961.0,859.1 1962.5,859.5 1964.4,860.0 1964.4,860.0 1966.0,860.4" fill="none" stroke="#2a14dc" stroke-width="3.2" stroke-linejoin="round" clip-path="url(#cb)"/>
<polyline points="1115.0,433.4 1116.9,447.0 1118.4,458.0 1118.8,457.2 1120.6,452.8 1121.8,450.1 1122.5,446.8 1124.4,438.2 1125.2,436.0 1126.2,434.0 1128.1,430.4 1128.6,429.5 1130.0,437.2 1131.9,421.6 1132.0,420.6 1133.8,402.4 1135.4,385.4 1135.6,384.5 1137.5,390.1 1138.8,395.6 1139.4,393.8 1141.2,387.7 1142.2,384.7 1143.1,380.7 1145.0,372.6 1145.6,369.1 1146.9,368.0 1148.8,366.4 1149.0,366.2 1150.6,364.9 1152.4,364.3 1152.5,363.8 1154.4,355.8 1155.8,349.8 1156.2,347.0 1158.1,335.9 1159.2,330.2 1160.0,335.2 1161.9,346.6 1162.6,351.0 1163.8,352.5 1165.6,355.3 1166.0,355.9 1167.5,354.3 1169.4,352.2 1169.4,352.2 1171.2,355.1 1172.8,357.5 1173.1,361.0 1175.0,380.7 1176.2,393.2 1176.9,392.4 1178.8,388.8 1179.6,387.2 1180.6,394.8 1182.5,408.3 1183.0,411.8 1184.4,408.8 1186.2,404.7 1186.4,404.4 1188.1,417.7 1189.8,429.3 1190.0,429.5 1191.9,431.1 1193.2,432.2 1193.8,431.5 1195.6,431.1 1196.6,432.8 1197.5,431.9 1199.4,432.0 1200.0,432.7 1201.2,440.6 1203.1,453.5 1203.4,455.4 1205.0,475.5 1206.8,493.2 1206.9,493.7 1208.8,484.7 1210.2,479.7 1210.6,485.8 1212.5,511.5 1213.6,526.4 1214.4,534.7 1216.2,530.4 1217.0,524.0 1218.1,515.2 1220.0,520.1 1220.4,524.6 1221.9,544.3 1223.8,569.0 1223.8,569.5 1225.6,578.5 1227.2,566.5 1227.5,564.7 1229.4,558.5 1230.6,566.6 1231.2,571.2 1233.1,582.5 1234.0,576.7 1235.0,568.0 1236.9,551.9 1237.4,547.5 1238.8,537.7 1240.6,530.2 1240.8,529.6 1242.5,520.1 1244.2,510.7 1244.4,509.9 1246.2,523.3 1247.6,540.7 1248.1,544.4 1250.0,524.5 1251.0,514.1 1251.9,518.0 1253.8,526.6 1254.4,529.5 1255.6,536.4 1257.5,546.8 1257.8,548.4 1259.4,549.8 1261.2,534.3 1261.2,533.9 1263.1,525.8 1264.6,522.3 1265.0,521.2 1266.9,516.0 1268.0,526.2 1268.8,534.0 1270.6,552.9 1271.4,552.0 1272.5,541.9 1274.4,525.0 1274.8,521.3 1276.2,500.3 1278.1,494.1 1278.2,494.3 1280.0,509.8 1281.6,505.5 1281.9,504.4 1283.8,497.5 1285.0,502.3 1285.6,505.6 1287.5,515.4 1288.4,520.0 1289.4,523.9 1291.2,521.9 1291.8,520.0 1293.1,516.2 1295.0,510.9 1295.2,511.9 1296.9,525.9 1298.6,533.9 1298.8,533.1 1300.6,524.4 1302.0,531.8 1302.5,535.8 1304.4,550.5 1305.4,558.4 1306.2,566.2 1308.1,563.1 1308.8,557.3 1310.0,546.8 1311.9,548.3 1312.2,552.0 1313.8,568.7 1315.6,588.2 1315.6,588.7 1317.5,578.7 1319.0,564.2 1319.4,560.4 1321.2,542.8 1322.4,535.0 1323.1,529.1 1325.0,514.0 1325.8,513.5 1326.9,511.6 1328.8,508.3 1329.2,507.6 1330.6,508.8 1332.5,510.4 1332.6,510.5 1334.4,507.8 1336.0,506.2 1336.2,506.1 1338.1,505.5 1339.4,505.1 1340.0,506.3 1341.9,509.7 1342.8,509.5 1343.8,507.7 1345.6,504.2 1346.2,503.1 1347.5,501.2 1349.4,499.1 1349.6,499.2 1351.2,496.1 1353.0,491.5 1353.1,491.7 1355.0,495.9 1356.4,500.1 1356.9,499.9 1358.8,497.4 1359.8,494.9 1360.6,492.9 1362.5,488.4 1363.2,486.7 1364.4,482.9 1366.2,476.9 1366.6,475.8 1368.1,473.6 1370.0,470.8 1370.0,470.8 1371.9,470.2 1373.4,469.7 1373.8,468.9 1375.6,464.6 1376.8,461.8 1377.5,458.1 1379.4,448.6 1380.2,444.6 1381.2,443.8 1383.1,442.4 1383.6,442.1 1385.0,440.7 1386.9,438.9 1387.0,438.8 1388.8,439.0 1390.4,439.1 1390.6,438.4 1392.5,433.0 1393.8,429.2 1394.4,427.5 1396.2,421.8 1397.2,419.0 1398.1,416.6 1400.0,411.9 1400.6,410.4 1401.9,411.9 1403.8,413.9 1404.0,414.2 1405.6,404.1 1407.4,393.3 1407.5,392.9 1409.4,387.4 1410.8,383.3 1411.2,382.5 1413.1,375.5 1414.2,370.1 1415.0,366.6 1416.9,358.7 1417.6,355.7 1418.8,348.3 1420.6,336.4 1421.0,334.2 1422.5,324.2 1424.4,312.5 1424.4,312.4 1426.2,303.9 1427.8,297.4 1428.1,296.3 1430.0,290.4 1431.2,286.5 1431.9,283.3 1433.8,273.6 1434.6,268.7 1435.6,262.5 1437.5,251.3 1438.0,248.3 1439.4,238.8 1441.2,226.2 1441.4,225.3 1443.1,217.1 1444.8,216.5 1445.0,216.4 1446.9,215.8 1448.2,215.3 1448.8,213.9 1450.6,208.9 1451.6,206.3 1452.5,206.6 1454.4,207.2 1455.0,207.4 1456.2,197.8 1458.1,178.9 1458.4,176.2 1460.0,162.4 1461.8,147.1 1461.9,146.1 1463.8,146.7 1465.2,151.6 1465.6,154.4 1467.5,166.3 1468.6,173.2 1469.4,174.7 1471.2,164.4 1472.0,160.3 1473.1,155.3 1475.0,146.9 1475.4,145.2 1476.9,138.6 1478.8,137.5 1478.8,137.5 1480.6,137.3 1482.2,137.0 1482.5,136.5 1484.4,136.1 1485.6,139.9 1486.2,143.0 1488.1,151.9 1489.0,156.5 1490.0,161.2 1491.9,168.8 1492.4,169.7 1493.8,171.1 1495.6,173.9 1495.8,174.6 1497.5,184.3 1499.2,192.6 1499.4,193.2 1501.2,199.8 1502.6,208.6 1503.1,213.0 1505.0,228.7 1506.0,238.1 1506.9,246.2 1508.8,262.9 1509.4,267.9 1510.6,277.6 1512.5,292.2 1512.8,294.5 1514.4,307.0 1516.2,322.3 1516.2,322.9 1518.1,339.1 1519.6,351.7 1520.0,355.1 1521.9,370.6 1523.0,379.8 1523.8,388.1 1525.6,411.5 1526.4,421.0 1527.5,432.4 1529.4,451.8 1529.8,456.0 1531.2,471.7 1533.1,491.8 1533.2,492.4 1535.0,506.4 1536.6,516.2 1536.9,518.4 1538.8,532.7 1540.0,542.7 1540.6,546.7 1542.5,558.6 1543.4,564.2 1544.4,572.5 1546.2,588.1 1546.8,592.6 1548.1,601.7 1550.0,613.2 1550.2,614.0 1551.9,621.1 1553.6,628.2 1553.8,629.1 1555.6,639.5 1557.0,647.0 1557.5,650.1 1559.4,658.6 1560.4,662.9 1561.2,664.6 1563.1,668.4 1563.8,669.7 1565.0,672.8 1566.9,677.0 1567.2,677.7 1568.8,679.7 1570.6,682.0 1570.6,682.1 1572.5,686.7 1574.0,690.4 1574.4,691.3 1576.2,695.6 1577.4,698.2 1578.1,699.0 1580.0,701.1 1580.8,702.0 1581.9,703.4 1583.8,705.6 1584.2,706.1 1585.6,707.7 1587.5,709.8 1587.6,709.9 1589.4,712.1 1591.0,714.0 1591.2,714.3 1593.1,716.5 1594.4,718.0 1595.0,718.9 1596.9,721.7 1597.8,723.0 1598.8,724.2 1600.6,726.7 1601.2,727.4 1602.5,727.7 1604.4,727.6 1604.6,727.6 1606.2,728.8 1608.0,730.0 1608.1,730.2 1610.0,733.0 1611.4,735.0 1611.9,735.3 1613.8,736.7 1614.8,737.4 1615.6,737.5 1617.5,737.6 1618.2,737.7 1619.4,738.9 1621.2,740.8 1621.6,741.1 1623.1,742.5 1625.0,744.1 1625.0,744.1 1626.9,745.6 1628.4,746.8 1628.8,747.0 1630.6,748.1 1631.8,748.6 1632.5,748.7 1634.4,749.0 1635.2,749.1 1636.2,749.0 1638.1,749.0 1638.6,749.0 1640.0,749.5 1641.9,750.1 1642.0,750.2 1643.8,750.0 1645.4,749.9 1645.6,749.9 1647.5,750.0 1648.8,750.1 1649.4,750.1 1651.2,750.3 1652.2,750.4 1653.1,750.4 1655.0,750.4 1655.6,750.4 1656.9,751.0 1658.8,751.8 1659.0,751.9 1660.6,752.0 1662.4,752.0 1662.5,752.0 1664.4,752.2 1665.8,752.3 1666.2,752.3 1668.1,752.3 1669.2,752.2 1670.0,752.5 1671.9,753.2 1672.6,753.5 1673.8,753.5 1675.6,753.5 1676.0,753.5 1677.5,753.1 1679.4,752.7 1679.4,752.7 1681.2,752.5 1682.8,752.4 1683.1,752.5 1685.0,753.4 1686.2,753.9 1686.9,754.0 1688.8,754.4 1689.6,754.6 1690.6,755.2 1692.5,756.3 1693.0,756.6 1694.4,756.5 1696.2,756.4 1696.4,756.4 1698.1,756.4 1699.8,756.3 1700.0,756.4 1701.9,757.1 1703.2,757.6 1703.8,757.3 1705.6,756.4 1706.6,755.9 1707.5,756.2 1709.4,756.7 1710.0,756.8 1711.2,757.1 1713.1,757.5 1713.4,757.6 1715.0,757.4 1716.8,757.1 1716.9,757.1 1718.8,757.0 1720.2,757.0 1720.6,757.0 1722.5,757.3 1723.6,757.4 1724.4,757.3 1726.2,757.0 1727.0,756.9 1728.1,757.2 1730.0,757.8 1730.4,757.9 1731.9,757.3 1733.8,756.7 1733.8,756.7 1735.6,758.4 1737.2,759.9 1737.5,760.1 1739.4,761.4 1740.6,762.3 1741.2,762.2 1743.1,762.0 1744.0,761.9 1745.0,762.2 1746.9,762.8 1747.4,762.9 1748.8,763.6 1750.6,764.6 1750.8,764.7 1752.5,765.0 1754.2,765.3 1754.4,765.4 1756.2,766.1 1757.6,766.6 1758.1,766.6 1760.0,766.7 1761.0,766.7 1761.9,767.1 1763.8,767.8 1764.4,768.1 1765.6,768.5 1767.5,769.2 1767.8,769.3 1769.4,769.1 1771.2,770.1 1771.2,770.2 1773.1,773.1 1774.6,775.4 1775.0,776.0 1776.9,778.4 1778.0,779.8 1778.8,780.3 1780.6,780.6 1781.4,780.8 1782.5,781.4 1784.4,782.4 1784.8,782.7 1786.2,784.2 1788.1,786.1 1788.2,786.2 1790.0,786.6 1791.6,787.0 1791.9,787.2 1793.8,789.0 1795.0,790.2 1795.6,790.8 1797.5,792.5 1798.4,793.3 1799.4,794.1 1801.2,795.6 1801.8,796.0 1803.1,796.4 1805.0,796.9 1805.2,797.0 1806.9,799.0 1808.6,801.4 1808.8,801.5 1810.6,803.5 1812.0,805.0 1812.5,805.5 1814.4,807.3 1815.4,808.3 1816.2,809.8 1818.1,813.0 1818.8,814.2 1820.0,815.8 1821.9,818.4 1822.2,818.8 1823.8,820.4 1825.6,822.2 1825.6,822.3 1827.5,824.1 1829.0,825.5 1829.4,825.7 1831.2,826.9 1832.4,827.6 1833.1,828.0 1835.0,829.2 1835.8,829.8 1836.9,830.0 1838.8,830.5 1839.2,830.6 1840.6,832.3 1842.5,834.5 1842.6,834.6 1844.4,835.1 1846.0,835.5 1846.2,835.6 1848.1,836.8 1849.4,837.6 1850.0,838.1 1851.9,839.7 1852.8,840.5 1853.8,841.5 1855.6,843.0 1856.2,843.4 1857.5,843.8 1859.4,844.3 1859.6,844.3 1861.2,845.3 1863.0,846.2 1863.1,846.2 1865.0,846.3 1866.4,846.4 1866.9,846.7 1868.8,847.8 1869.8,848.4 1870.6,848.5 1872.5,848.9 1873.2,849.1 1874.4,849.5 1876.2,850.2 1876.6,850.3 1878.1,851.3 1880.0,852.4 1880.0,852.4 1881.9,852.9 1883.4,853.4 1883.8,853.4 1885.6,853.2 1886.8,852.9 1887.5,853.3 1889.4,854.3 1890.2,854.8 1891.2,854.7 1893.1,854.5 1893.6,854.4 1895.0,855.2 1896.9,856.3 1897.0,856.3 1898.8,855.9 1900.4,855.5 1900.6,855.5 1902.5,855.8 1903.8,856.0 1904.4,855.8 1906.2,855.4 1907.2,855.2 1908.1,855.7 1910.0,856.8 1910.6,857.2 1911.9,857.2 1913.8,857.2 1914.0,857.2 1915.6,856.9 1917.4,856.5 1917.5,856.6 1919.4,856.9 1920.8,857.2 1921.2,857.2 1923.1,857.1 1924.2,857.0 1925.0,857.6 1926.9,858.9 1927.6,859.4 1928.8,858.8 1930.6,857.9 1931.0,857.7 1932.5,858.4 1934.4,859.3 1934.4,859.3 1936.2,858.6 1937.8,858.0 1938.1,858.2 1940.0,859.3 1941.2,860.0 1941.9,859.9 1943.8,859.8 1944.6,859.8 1945.6,859.7 1947.5,859.5 1948.0,859.4 1949.4,859.2 1951.2,858.9 1951.4,858.8 1953.1,858.7 1954.8,858.6 1955.0,858.7 1956.9,859.1 1958.2,859.3 1958.8,859.3 1960.6,859.2 1961.6,859.2 1962.5,859.0 1964.4,858.5 1965.0,858.3 1966.0,858.7" fill="none" stroke="#5c20e0" stroke-width="3.2" stroke-linejoin="round" clip-path="url(#cb)"/>
<polyline points="1115.0,420.5 1116.9,418.4 1118.1,417.0 1118.8,421.4 1120.6,434.6 1121.5,440.8 1122.5,444.1 1124.4,450.3 1124.9,452.1 1126.2,463.1 1128.1,479.0 1128.3,480.6 1130.0,499.0 1131.7,517.7 1131.9,518.0 1133.8,486.9 1135.1,462.4 1135.6,460.5 1137.5,453.3 1138.5,449.4 1139.4,433.0 1141.2,407.4 1141.9,400.1 1143.1,399.6 1145.0,398.9 1145.3,398.7 1146.9,398.9 1148.7,399.2 1148.8,399.0 1150.6,390.6 1152.1,383.8 1152.5,380.5 1154.4,364.3 1155.5,354.4 1156.2,358.2 1158.1,367.8 1158.9,371.9 1160.0,362.3 1161.9,348.0 1162.3,344.7 1163.8,334.1 1165.6,320.3 1165.7,319.6 1167.5,321.7 1169.1,323.6 1169.4,322.1 1171.2,311.3 1172.5,304.0 1173.1,305.3 1175.0,309.6 1175.9,315.0 1176.9,309.6 1178.8,299.1 1179.3,295.9 1180.6,306.5 1182.5,322.1 1182.7,323.9 1184.4,311.6 1186.1,298.8 1186.2,300.5 1188.1,323.9 1189.5,341.2 1190.0,340.3 1191.9,345.1 1192.9,347.7 1193.8,356.1 1195.6,375.0 1196.3,381.9 1197.5,379.0 1199.4,374.3 1199.7,373.5 1201.2,370.1 1203.1,364.5 1203.1,364.5 1205.0,373.8 1206.5,381.4 1206.9,384.1 1208.8,398.0 1209.9,406.8 1210.6,415.8 1212.5,439.9 1213.3,450.6 1214.4,446.8 1216.2,443.7 1216.7,443.4 1218.1,457.0 1220.0,475.2 1220.1,476.3 1221.9,467.4 1223.5,458.5 1223.8,460.3 1225.6,476.9 1226.9,491.6 1227.5,497.8 1229.4,517.8 1230.3,527.8 1231.2,541.4 1233.1,551.3 1233.7,554.4 1235.0,538.3 1236.9,514.9 1237.1,511.9 1238.8,509.5 1240.5,506.9 1240.6,507.8 1242.5,521.9 1243.9,532.6 1244.4,524.8 1246.2,493.5 1247.3,475.8 1248.1,477.1 1250.0,480.2 1250.7,481.3 1251.9,469.4 1253.8,450.3 1254.1,446.8 1255.6,454.4 1257.5,463.8 1257.5,463.9 1259.4,472.8 1260.9,480.2 1261.2,480.5 1263.1,482.3 1264.3,483.4 1265.0,472.9 1266.9,444.2 1267.7,431.4 1268.8,426.9 1270.6,419.5 1271.1,417.6 1272.5,436.2 1274.4,461.4 1274.5,463.2 1276.2,473.1 1277.9,482.5 1278.1,479.6 1280.0,454.0 1281.3,436.0 1281.9,438.6 1283.8,447.2 1284.7,451.6 1285.6,449.7 1287.5,445.9 1288.1,444.6 1289.4,429.6 1291.2,407.3 1291.5,404.1 1293.1,402.5 1294.9,400.7 1295.0,401.5 1296.9,419.6 1298.3,434.2 1298.8,436.2 1300.6,444.6 1301.7,449.5 1302.5,441.9 1304.4,424.0 1305.1,417.0 1306.2,426.1 1308.1,441.1 1308.5,444.2 1310.0,442.5 1311.9,438.6 1311.9,438.5 1313.8,435.5 1315.3,432.9 1315.6,432.1 1317.5,427.5 1318.7,425.1 1319.4,433.7 1321.2,443.8 1322.1,444.5 1323.1,428.0 1325.0,398.9 1325.5,391.3 1326.9,376.1 1328.8,355.5 1328.9,353.7 1330.6,340.2 1332.3,335.9 1332.5,335.9 1334.4,335.9 1335.7,335.3 1336.2,333.1 1338.1,325.8 1339.1,321.9 1340.0,322.0 1341.9,325.7 1342.5,326.9 1343.8,325.5 1345.6,323.3 1345.9,323.0 1347.5,327.4 1349.3,332.5 1349.4,332.5 1351.2,331.3 1352.7,330.5 1353.1,331.4 1355.0,335.7 1356.1,338.2 1356.9,335.7 1358.8,330.2 1359.5,328.7 1360.6,332.6 1362.5,339.1 1362.9,340.6 1364.4,342.4 1366.2,344.7 1366.3,344.8 1368.1,357.7 1369.7,369.0 1370.0,368.4 1371.9,364.8 1373.1,362.5 1373.8,364.4 1375.6,367.8 1376.5,368.6 1377.5,365.5 1379.4,359.7 1379.9,358.0 1381.2,367.8 1383.1,382.3 1383.3,383.8 1385.0,384.5 1386.7,382.9 1386.9,383.4 1388.8,388.9 1390.1,392.8 1390.6,392.2 1392.5,390.2 1393.5,389.1 1394.4,392.8 1396.2,402.2 1396.9,405.7 1398.1,402.8 1400.0,398.6 1400.3,397.9 1401.9,404.8 1403.7,412.8 1403.8,412.8 1405.6,412.6 1407.1,412.6 1407.5,413.6 1409.4,418.3 1410.5,421.2 1411.2,420.9 1413.1,420.3 1413.9,420.1 1415.0,423.1 1416.9,428.3 1417.3,428.8 1418.8,428.8 1420.6,428.7 1420.7,428.7 1422.5,427.5 1424.1,426.2 1424.4,426.6 1426.2,429.6 1427.5,431.6 1428.1,429.9 1430.0,423.7 1430.9,420.7 1431.9,421.5 1433.8,422.9 1434.3,423.4 1435.6,422.2 1437.5,420.6 1437.7,420.5 1439.4,419.7 1441.1,418.9 1441.2,418.5 1443.1,414.6 1444.5,412.6 1445.0,413.6 1446.9,417.6 1447.9,419.8 1448.8,418.3 1450.6,415.1 1451.3,414.0 1452.5,414.4 1454.4,415.2 1454.7,415.3 1456.2,414.8 1458.1,412.5 1458.1,412.5 1460.0,408.6 1461.5,405.5 1461.9,404.9 1463.8,403.5 1464.9,404.7 1465.6,406.1 1467.5,409.7 1468.3,411.2 1469.4,406.9 1471.2,399.2 1471.7,397.4 1473.1,401.6 1475.0,407.2 1475.1,407.5 1476.9,407.6 1478.5,407.7 1478.8,407.9 1480.6,409.1 1481.9,409.8 1482.5,409.1 1484.4,407.0 1485.3,406.0 1486.2,406.2 1488.1,410.5 1488.7,412.1 1490.0,417.1 1491.9,424.2 1492.1,425.1 1493.8,427.3 1495.5,429.6 1495.6,429.8 1497.5,434.0 1498.9,437.1 1499.4,438.1 1501.2,441.9 1502.3,444.0 1503.1,446.0 1505.0,450.6 1505.7,453.7 1506.9,460.3 1508.8,470.9 1509.1,472.9 1510.6,478.3 1512.5,485.1 1512.5,485.1 1514.4,496.2 1515.9,505.2 1516.2,506.4 1518.1,512.7 1519.3,516.3 1520.0,520.1 1521.9,530.7 1522.7,535.4 1523.8,539.6 1525.6,547.2 1526.1,549.2 1527.5,556.5 1529.4,566.4 1529.5,567.1 1531.2,574.5 1532.9,581.6 1533.1,582.6 1535.0,590.6 1536.3,594.6 1536.9,596.3 1538.8,601.8 1539.7,604.6 1540.6,607.3 1542.5,612.8 1543.1,614.6 1544.4,617.2 1546.2,621.1 1546.5,621.7 1548.1,628.1 1549.9,635.1 1550.0,635.3 1551.9,639.8 1553.3,643.2 1553.8,645.0 1555.6,652.4 1556.7,655.0 1557.5,655.5 1559.4,656.8 1560.1,657.3 1561.2,659.1 1563.1,662.0 1563.5,662.6 1565.0,664.4 1566.9,666.5 1566.9,666.6 1568.8,669.4 1570.3,671.8 1570.6,672.2 1572.5,674.8 1573.7,676.4 1574.4,677.4 1576.2,680.1 1577.1,681.3 1578.1,682.0 1580.0,683.4 1580.5,683.8 1581.9,686.6 1583.8,690.4 1583.9,690.7 1585.6,691.3 1587.3,691.9 1587.5,692.2 1589.4,694.8 1590.7,696.7 1591.2,697.0 1593.1,698.3 1594.1,699.0 1595.0,700.5 1596.9,703.8 1597.5,704.9 1598.8,706.5 1600.6,709.0 1600.9,709.4 1602.5,711.4 1604.3,713.6 1604.4,713.7 1606.2,715.6 1607.7,717.7 1608.1,718.4 1610.0,721.4 1611.1,723.1 1611.9,724.2 1613.8,726.6 1614.5,727.7 1615.6,729.5 1617.5,732.7 1617.9,733.3 1619.4,735.8 1621.2,738.9 1621.3,739.0 1623.1,742.0 1624.7,744.6 1625.0,745.0 1626.9,747.4 1628.1,748.2 1628.8,748.7 1630.6,750.1 1631.5,750.8 1632.5,751.6 1634.4,753.1 1634.9,753.5 1636.2,754.2 1638.1,755.1 1638.3,755.2 1640.0,756.0 1641.7,756.9 1641.9,757.0 1643.8,757.8 1645.1,758.4 1645.6,758.8 1647.5,760.5 1648.5,761.3 1649.4,761.8 1651.2,762.9 1651.9,763.3 1653.1,764.4 1655.0,766.1 1655.3,766.4 1656.9,766.8 1658.7,767.3 1658.8,767.3 1660.6,768.9 1662.1,770.1 1662.5,770.1 1664.4,770.2 1665.5,770.3 1666.2,771.3 1668.1,773.8 1668.9,774.9 1670.0,774.5 1671.9,773.7 1672.3,773.5 1673.8,774.3 1675.6,775.4 1675.7,775.5 1677.5,775.9 1679.1,776.2 1679.4,776.3 1681.2,776.7 1682.5,777.0 1683.1,777.2 1685.0,777.9 1685.9,778.2 1686.9,778.4 1688.8,778.9 1689.3,779.0 1690.6,779.6 1692.5,780.4 1692.7,780.5 1694.4,781.0 1696.1,781.5 1696.2,781.6 1698.1,782.5 1699.5,783.2 1700.0,783.3 1701.9,783.7 1702.9,784.0 1703.8,784.2 1705.6,784.8 1706.3,785.0 1707.5,784.9 1709.4,784.7 1709.7,784.7 1711.2,784.5 1713.1,784.3 1713.1,784.3 1715.0,785.9 1716.5,787.2 1716.9,787.1 1718.8,786.8 1719.9,786.6 1720.6,786.3 1722.5,785.6 1723.3,785.3 1724.4,786.1 1726.2,787.6 1726.7,787.9 1728.1,787.9 1730.0,787.9 1730.1,787.8 1731.9,787.9 1733.5,788.0 1733.8,788.0 1735.6,788.3 1736.9,788.5 1737.5,788.6 1739.4,789.1 1740.3,789.4 1741.2,789.3 1743.1,789.2 1743.7,789.2 1745.0,789.6 1746.9,790.3 1747.1,790.4 1748.8,790.4 1750.5,790.5 1750.6,790.5 1752.5,790.7 1753.9,790.9 1754.4,791.0 1756.2,791.5 1757.3,791.8 1758.1,791.9 1760.0,792.1 1760.7,792.2 1761.9,792.8 1763.8,794.0 1764.1,794.3 1765.6,794.5 1767.5,794.8 1767.5,794.8 1769.4,795.0 1770.9,795.2 1771.2,795.4 1773.1,796.6 1774.3,797.3 1775.0,797.8 1776.9,799.3 1777.7,799.9 1778.8,800.3 1780.6,801.1 1781.1,801.3 1782.5,801.1 1784.4,800.9 1784.5,800.9 1786.2,802.5 1787.9,804.0 1788.1,804.1 1790.0,804.8 1791.3,805.3 1791.9,805.7 1793.8,806.9 1794.7,807.5 1795.6,807.8 1797.5,808.5 1798.1,808.7 1799.4,809.4 1801.2,810.5 1801.5,810.6 1803.1,812.0 1804.9,813.6 1805.0,813.7 1806.9,815.0 1808.3,816.1 1808.8,816.4 1810.6,817.9 1811.7,818.7 1812.5,819.1 1814.4,819.9 1815.1,820.2 1816.2,821.2 1818.1,822.8 1818.5,823.2 1820.0,824.3 1821.9,825.8 1821.9,825.9 1823.8,827.1 1825.3,828.1 1825.6,828.2 1827.5,828.9 1828.7,829.4 1829.4,830.0 1831.2,831.5 1832.1,832.0 1833.1,832.6 1835.0,833.8 1835.5,834.1 1836.9,834.7 1838.8,835.6 1838.9,835.7 1840.6,835.9 1842.3,836.0 1842.5,836.2 1844.4,837.7 1845.7,838.7 1846.2,838.6 1848.1,838.3 1849.1,838.1 1850.0,839.1 1851.9,841.0 1852.5,841.6 1853.8,841.6 1855.6,841.5 1855.9,841.5 1857.5,842.2 1859.3,843.0 1859.4,843.0 1861.2,843.2 1862.7,843.4 1863.1,843.5 1865.0,844.0 1866.1,844.2 1866.9,844.6 1868.8,845.5 1869.5,845.8 1870.6,846.2 1872.5,846.9 1872.9,847.1 1874.4,847.2 1876.2,847.3 1876.3,847.3 1878.1,848.5 1879.7,849.6 1880.0,849.6 1881.9,849.7 1883.1,849.8 1883.8,850.0 1885.6,850.6 1886.5,850.8 1887.5,850.9 1889.4,850.9 1889.9,850.9 1891.2,851.1 1893.1,851.4 1893.3,851.5 1895.0,851.9 1896.7,852.4 1896.9,852.4 1898.8,852.2 1900.1,852.1 1900.6,852.4 1902.5,853.4 1903.5,854.0 1904.4,853.8 1906.2,853.4 1906.9,853.3 1908.1,853.8 1910.0,854.7 1910.3,854.8 1911.9,854.6 1913.7,854.3 1913.8,854.3 1915.6,854.9 1917.1,855.2 1917.5,855.2 1919.4,855.1 1920.5,855.1 1921.2,855.3 1923.1,856.1 1923.9,856.4 1925.0,856.5 1926.9,856.8 1927.3,856.9 1928.8,856.4 1930.6,855.7 1930.7,855.7 1932.5,856.1 1934.1,856.4 1934.4,856.4 1936.2,856.4 1937.5,856.4 1938.1,856.5 1940.0,856.8 1940.9,856.9 1941.9,857.0 1943.8,857.2 1944.3,857.3 1945.6,857.5 1947.5,857.9 1947.7,857.9 1949.4,857.5 1951.1,857.0 1951.2,857.0 1953.1,856.4 1954.5,856.1 1955.0,856.3 1956.9,857.2 1957.9,857.8 1958.8,857.6 1960.6,857.4 1961.3,857.3 1962.5,857.4 1964.4,857.6 1964.7,857.6 1966.0,858.0" fill="none" stroke="#4a0c0c" stroke-width="3.2" stroke-linejoin="round" clip-path="url(#cb)"/>
<polyline points="1115.0,475.4 1115.3,474.1 1116.9,466.4 1118.7,457.1 1118.8,456.9 1120.6,437.0 1122.1,420.9 1122.5,422.4 1124.4,430.1 1125.5,434.4 1126.2,424.7 1128.1,399.4 1128.9,388.4 1130.0,393.7 1131.9,403.2 1132.3,405.5 1133.8,396.8 1135.6,385.3 1135.7,384.6 1137.5,377.1 1139.1,370.5 1139.4,369.3 1141.2,360.1 1142.5,353.8 1143.1,349.7 1145.0,336.9 1145.9,331.2 1146.9,324.3 1148.8,310.5 1149.3,306.2 1150.6,301.9 1152.5,294.2 1152.7,292.8 1154.4,292.8 1156.1,293.0 1156.2,291.2 1158.1,263.1 1159.5,241.8 1160.0,239.0 1161.9,256.1 1162.9,265.7 1163.8,270.4 1165.6,281.2 1166.3,285.2 1167.5,289.5 1169.4,284.3 1169.7,283.3 1171.2,279.1 1173.1,275.3 1173.1,275.3 1175.0,293.1 1176.5,307.8 1176.9,309.5 1178.8,293.5 1179.9,282.3 1180.6,277.2 1182.5,263.9 1183.3,258.1 1184.4,250.0 1186.2,252.6 1186.7,255.5 1188.1,269.7 1190.0,289.0 1190.1,290.1 1191.9,289.5 1193.5,288.7 1193.8,291.4 1195.6,314.0 1196.9,329.8 1197.5,336.6 1199.4,359.3 1200.3,371.0 1201.2,368.5 1203.1,362.6 1203.7,360.5 1205.0,372.9 1206.9,389.2 1207.1,391.5 1208.8,416.8 1210.5,445.5 1210.6,444.5 1212.5,425.3 1213.9,409.7 1214.4,410.4 1216.2,410.9 1217.3,410.4 1218.1,418.2 1220.0,437.1 1220.7,444.6 1221.9,463.6 1223.8,495.6 1224.1,502.2 1225.6,509.5 1227.5,518.2 1227.5,518.3 1229.4,479.2 1230.9,443.3 1231.2,446.3 1233.1,463.8 1234.3,475.0 1235.0,471.0 1236.9,459.9 1237.7,454.8 1238.8,448.5 1240.6,437.1 1241.1,434.0 1242.5,418.8 1244.4,398.0 1244.5,396.2 1246.2,425.5 1247.9,454.5 1248.1,451.7 1250.0,425.0 1251.3,406.1 1251.9,409.2 1253.8,419.6 1254.7,426.4 1255.6,424.9 1257.5,421.7 1258.1,420.7 1259.4,434.8 1261.2,456.1 1261.5,459.3 1263.1,451.7 1264.9,443.1 1265.0,442.0 1266.9,414.4 1268.3,394.1 1268.8,397.1 1270.6,409.2 1271.7,416.3 1272.5,423.2 1274.4,440.2 1275.1,447.0 1276.2,430.4 1278.1,402.6 1278.5,396.6 1280.0,406.5 1281.9,419.0 1281.9,419.4 1283.8,427.8 1285.3,434.8 1285.6,431.2 1287.5,408.4 1288.7,393.4 1289.4,394.9 1291.2,399.2 1292.1,401.5 1293.1,398.6 1295.0,393.2 1295.5,391.7 1296.9,409.3 1298.8,433.8 1298.9,436.2 1300.6,427.1 1302.3,417.9 1302.5,419.6 1304.4,438.2 1305.7,452.0 1306.2,449.5 1308.1,440.5 1309.1,435.7 1310.0,438.7 1311.9,445.2 1312.5,445.1 1313.8,434.9 1315.6,419.3 1315.9,416.8 1317.5,418.9 1319.3,420.8 1319.4,420.4 1321.2,403.0 1322.7,384.1 1323.1,377.5 1325.0,347.2 1326.1,329.7 1326.9,327.9 1328.8,320.5 1329.5,316.3 1330.6,306.6 1332.5,297.6 1332.9,295.6 1334.4,292.8 1336.2,289.5 1336.3,289.3 1338.1,275.3 1339.7,262.8 1340.0,261.7 1341.9,259.6 1343.1,258.3 1343.8,257.1 1345.6,253.4 1346.5,251.7 1347.5,250.4 1349.4,247.9 1349.9,247.2 1351.2,248.7 1353.1,250.9 1353.3,251.2 1355.0,256.8 1356.7,267.0 1356.9,266.9 1358.8,266.3 1360.1,265.9 1360.6,266.0 1362.5,266.3 1363.5,266.5 1364.4,273.0 1366.2,286.3 1366.9,291.0 1368.1,290.0 1370.0,288.6 1370.3,288.3 1371.9,291.6 1373.7,295.4 1373.8,295.5 1375.6,299.8 1377.1,305.8 1377.5,307.5 1379.4,316.4 1380.5,321.7 1381.2,325.5 1383.1,335.2 1383.9,339.3 1385.0,339.1 1386.9,338.5 1387.3,338.4 1388.8,347.7 1390.6,359.6 1390.7,360.3 1392.5,366.0 1394.1,371.3 1394.4,372.9 1396.2,384.7 1397.5,392.7 1398.1,392.8 1400.0,393.5 1400.9,394.1 1401.9,401.5 1403.8,415.7 1404.3,420.0 1405.6,422.9 1407.5,427.3 1407.7,427.8 1409.4,436.1 1411.1,444.8 1411.2,444.9 1413.1,446.7 1414.5,448.4 1415.0,451.0 1416.9,461.3 1417.9,464.1 1418.8,464.4 1420.6,464.9 1421.3,465.2 1422.5,463.9 1424.4,462.2 1424.7,461.8 1426.2,465.1 1428.1,469.1 1428.1,469.1 1430.0,470.5 1431.5,471.6 1431.9,471.8 1433.8,472.6 1434.9,473.1 1435.6,473.9 1437.5,476.0 1438.3,476.9 1439.4,477.2 1441.2,477.8 1441.7,477.8 1443.1,479.5 1445.0,481.6 1445.1,481.8 1446.9,483.2 1448.5,484.6 1448.8,484.4 1450.6,482.9 1451.9,481.8 1452.5,481.5 1454.4,480.5 1455.3,480.0 1456.2,482.2 1458.1,486.6 1458.7,488.0 1460.0,486.7 1461.9,484.7 1462.1,484.5 1463.8,486.2 1465.5,487.9 1465.6,488.0 1467.5,488.9 1468.9,489.7 1469.4,489.9 1471.2,489.4 1472.3,488.8 1473.1,489.2 1475.0,490.1 1475.7,490.5 1476.9,489.0 1478.8,486.7 1479.1,486.3 1480.6,486.3 1482.5,486.4 1482.5,486.4 1484.4,486.3 1485.9,487.1 1486.2,487.5 1488.1,490.0 1489.3,490.9 1490.0,492.0 1491.9,495.1 1492.7,496.5 1493.8,498.9 1495.6,503.1 1496.1,504.2 1497.5,504.4 1499.4,506.3 1499.5,506.5 1501.2,511.7 1502.9,517.6 1503.1,519.0 1505.0,528.4 1506.3,528.1 1506.9,528.5 1508.8,529.6 1509.7,532.3 1510.6,536.8 1512.5,546.0 1513.1,547.1 1514.4,549.4 1516.2,552.9 1516.5,553.4 1518.1,558.2 1519.9,564.9 1520.0,565.1 1521.9,570.0 1523.3,573.7 1523.8,574.6 1525.6,578.4 1526.7,580.7 1527.5,583.0 1529.4,588.5 1530.1,590.8 1531.2,594.5 1533.1,600.3 1533.5,601.6 1535.0,603.9 1536.9,606.8 1536.9,606.9 1538.8,612.3 1540.3,617.0 1540.6,617.5 1542.5,620.5 1543.7,622.4 1544.4,624.4 1546.2,630.0 1547.1,632.6 1548.1,635.3 1550.0,640.4 1550.5,641.8 1551.9,644.6 1553.8,648.5 1553.9,648.9 1555.6,652.5 1557.3,655.8 1557.5,656.2 1559.4,660.2 1560.7,663.1 1561.2,664.2 1563.1,668.1 1564.1,670.0 1565.0,670.7 1566.9,672.2 1567.5,672.7 1568.8,674.2 1570.6,676.4 1570.9,676.7 1572.5,677.9 1574.3,679.3 1574.4,679.3 1576.2,680.3 1577.7,681.0 1578.1,681.1 1580.0,681.6 1581.1,681.8 1581.9,682.6 1583.8,684.4 1584.5,685.2 1585.6,686.6 1587.5,689.2 1587.9,689.9 1589.4,691.5 1591.2,693.6 1591.3,693.6 1593.1,695.1 1594.7,696.4 1595.0,696.9 1596.9,700.1 1598.1,702.2 1598.8,703.2 1600.6,706.0 1601.5,707.4 1602.5,707.8 1604.4,708.5 1604.9,708.7 1606.2,710.8 1608.1,714.3 1608.3,714.7 1610.0,718.0 1611.7,721.4 1611.9,721.6 1613.8,723.6 1615.1,725.1 1615.6,725.9 1617.5,728.9 1618.5,730.5 1619.4,732.0 1621.2,735.2 1621.9,736.4 1623.1,738.5 1625.0,741.7 1625.3,742.2 1626.9,744.3 1628.7,745.5 1628.8,745.5 1630.6,747.7 1632.1,749.5 1632.5,749.5 1634.4,749.7 1635.5,749.9 1636.2,750.9 1638.1,753.6 1638.9,754.8 1640.0,755.6 1641.9,757.0 1642.3,757.3 1643.8,758.3 1645.6,759.5 1645.7,759.6 1647.5,761.2 1649.1,762.2 1649.4,762.3 1651.2,762.7 1652.5,763.0 1653.1,763.4 1655.0,764.6 1655.9,765.1 1656.9,765.0 1658.8,764.8 1659.3,764.8 1660.6,765.3 1662.5,766.1 1662.7,766.2 1664.4,766.2 1666.1,766.2 1666.2,766.2 1668.1,767.0 1669.5,767.5 1670.0,767.8 1671.9,768.8 1672.9,769.3 1673.8,769.3 1675.6,769.4 1676.3,769.4 1677.5,769.9 1679.4,770.9 1679.7,771.0 1681.2,771.4 1683.1,771.8 1683.1,771.8 1685.0,772.7 1686.5,773.5 1686.9,773.7 1688.8,774.6 1689.9,775.1 1690.6,775.6 1692.5,777.0 1693.3,777.6 1694.4,777.5 1696.2,777.2 1696.7,777.2 1698.1,778.5 1700.0,780.3 1700.1,780.3 1701.9,781.1 1703.5,781.7 1703.8,781.8 1705.6,782.3 1706.9,782.7 1707.5,782.8 1709.4,783.1 1710.3,783.3 1711.2,782.9 1713.1,782.0 1713.7,781.7 1715.0,782.2 1716.9,783.0 1717.1,783.1 1718.8,783.8 1720.5,784.5 1720.6,784.5 1722.5,785.0 1723.9,785.4 1724.4,785.4 1726.2,785.5 1727.3,785.5 1728.1,785.7 1730.0,786.0 1730.7,786.2 1731.9,786.3 1733.8,786.6 1734.1,786.7 1735.6,786.7 1737.5,786.6 1737.5,786.6 1739.4,787.4 1740.9,788.0 1741.2,788.1 1743.1,788.7 1744.3,789.1 1745.0,789.1 1746.9,789.0 1747.7,788.9 1748.8,789.5 1750.6,790.5 1751.1,790.7 1752.5,790.0 1754.4,789.1 1754.5,789.1 1756.2,790.1 1757.9,791.1 1758.1,791.2 1760.0,792.4 1761.3,793.3 1761.9,793.4 1763.8,793.8 1764.7,794.1 1765.6,794.5 1767.5,795.5 1768.1,795.8 1769.4,796.0 1771.2,796.2 1771.5,796.3 1773.1,796.4 1774.9,796.7 1775.0,796.7 1776.9,797.7 1778.3,798.5 1778.8,798.9 1780.6,800.5 1781.7,801.4 1782.5,801.2 1784.4,800.6 1785.1,800.5 1786.2,801.4 1788.1,802.9 1788.5,803.2 1790.0,803.9 1791.9,804.7 1791.9,804.7 1793.8,806.3 1795.3,807.7 1795.6,807.9 1797.5,809.0 1798.7,809.8 1799.4,810.3 1801.2,811.8 1802.1,812.5 1803.1,812.8 1805.0,813.4 1805.5,813.5 1806.9,815.0 1808.8,817.3 1808.9,817.5 1810.6,818.4 1812.3,819.2 1812.5,819.3 1814.4,820.2 1815.7,820.9 1816.2,821.2 1818.1,822.4 1819.1,823.0 1820.0,823.5 1821.9,824.7 1822.5,825.1 1823.8,826.5 1825.6,828.5 1825.9,828.8 1827.5,830.6 1829.3,832.6 1829.4,832.6 1831.2,833.0 1832.7,833.0 1833.1,833.1 1835.0,833.5 1836.1,833.8 1836.9,834.3 1838.8,835.4 1839.5,835.9 1840.6,836.2 1842.5,836.8 1842.9,836.9 1844.4,837.4 1846.2,838.0 1846.3,838.0 1848.1,838.4 1849.7,838.7 1850.0,838.9 1851.9,840.4 1853.1,841.3 1853.8,841.8 1855.6,842.9 1856.5,843.4 1857.5,843.7 1859.4,844.2 1859.9,844.3 1861.2,844.6 1863.1,845.1 1863.3,845.1 1865.0,845.4 1866.7,845.6 1866.9,845.7 1868.8,846.3 1870.1,846.8 1870.6,847.0 1872.5,847.8 1873.5,848.2 1874.4,848.2 1876.2,848.4 1876.9,848.5 1878.1,848.9 1880.0,849.6 1880.3,849.7 1881.9,849.9 1883.7,850.3 1883.8,850.3 1885.6,851.2 1887.1,851.9 1887.5,851.8 1889.4,851.4 1890.5,851.1 1891.2,851.4 1893.1,852.3 1893.9,852.7 1895.0,852.9 1896.9,853.2 1897.3,853.3 1898.8,853.5 1900.6,853.8 1900.7,853.9 1902.5,854.1 1904.1,854.3 1904.4,854.3 1906.2,854.2 1907.5,854.1 1908.1,854.2 1910.0,854.4 1910.9,854.5 1911.9,854.7 1913.8,855.0 1914.3,855.1 1915.6,855.3 1917.5,855.4 1917.7,855.4 1919.4,855.3 1921.1,855.1 1921.2,855.1 1923.1,855.5 1924.5,855.7 1925.0,855.7 1926.9,855.7 1927.9,855.7 1928.8,855.7 1930.6,855.7 1931.3,855.7 1932.5,856.1 1934.4,856.6 1934.7,856.7 1936.2,856.5 1938.1,856.2 1938.1,856.2 1940.0,856.6 1941.5,857.0 1941.9,857.1 1943.8,857.6 1944.9,857.9 1945.6,858.0 1947.5,858.1 1948.3,858.2 1949.4,857.9 1951.2,857.5 1951.7,857.4 1953.1,857.7 1955.0,858.1 1955.1,858.1 1956.9,858.0 1958.5,857.8 1958.8,857.9 1960.6,858.6 1961.9,859.0 1962.5,859.0 1964.4,859.0 1965.3,859.0 1966.0,859.0" fill="none" stroke="#a01414" stroke-width="3.2" stroke-linejoin="round" clip-path="url(#cb)"/>
<polyline points="1115.0,509.9 1115.5,507.5 1116.9,484.4 1118.8,453.0 1118.9,450.9 1120.6,463.8 1122.3,476.1 1122.5,473.7 1124.4,452.6 1125.7,436.2 1126.2,430.3 1128.1,410.8 1129.1,400.9 1130.0,393.9 1131.9,379.5 1132.5,374.9 1133.8,363.8 1135.6,350.5 1135.9,349.5 1137.5,350.2 1139.3,351.3 1139.4,351.4 1141.2,354.0 1142.7,356.1 1143.1,354.5 1145.0,347.8 1146.1,343.6 1146.9,341.4 1148.8,336.4 1149.5,334.4 1150.6,320.5 1152.5,297.8 1152.9,293.1 1154.4,289.4 1156.2,279.7 1156.3,279.6 1158.1,289.9 1159.7,299.0 1160.0,296.1 1161.9,290.7 1163.1,295.4 1163.8,302.5 1165.6,322.3 1166.5,330.0 1167.5,330.3 1169.4,330.9 1169.9,331.0 1171.2,323.1 1173.1,312.1 1173.3,311.2 1175.0,334.0 1176.7,347.8 1176.9,347.0 1178.8,339.0 1180.1,333.3 1180.6,331.6 1182.5,324.8 1183.5,321.2 1184.4,315.5 1186.2,311.2 1186.9,311.0 1188.1,320.8 1190.0,335.5 1190.3,337.7 1191.9,343.4 1193.7,349.9 1193.8,350.5 1195.6,367.4 1197.1,381.0 1197.5,381.5 1199.4,383.8 1200.5,385.2 1201.2,394.2 1203.1,416.9 1203.9,426.4 1205.0,418.5 1206.9,400.7 1207.3,396.6 1208.8,411.0 1210.6,430.4 1210.7,430.9 1212.5,437.0 1214.1,442.3 1214.4,440.5 1216.2,427.5 1217.5,417.8 1218.1,417.2 1220.0,415.2 1220.9,414.2 1221.9,431.9 1223.8,466.9 1224.3,477.1 1225.6,472.3 1227.5,461.7 1227.7,460.7 1229.4,447.9 1231.1,434.8 1231.2,435.3 1233.1,441.2 1234.5,445.4 1235.0,439.6 1236.9,418.7 1237.9,407.6 1238.8,413.7 1240.6,427.1 1241.3,431.7 1242.5,421.7 1244.4,406.2 1244.7,403.7 1246.2,413.3 1248.1,424.3 1248.1,424.6 1250.0,435.8 1251.5,444.6 1251.9,439.6 1253.8,416.0 1254.9,402.1 1255.6,409.4 1257.5,427.6 1258.3,435.2 1259.4,416.4 1261.2,384.2 1261.7,376.8 1263.1,385.3 1265.0,396.2 1265.1,396.7 1266.9,378.6 1268.5,362.4 1268.8,365.2 1270.6,384.7 1271.9,398.6 1272.5,399.7 1274.4,402.8 1275.3,404.3 1276.2,402.0 1278.1,397.7 1278.7,396.4 1280.0,395.7 1281.9,394.7 1282.1,394.6 1283.8,418.3 1285.5,442.6 1285.6,442.6 1287.5,443.6 1288.9,444.2 1289.4,432.6 1291.2,388.9 1292.3,364.8 1293.1,382.3 1295.0,421.0 1295.7,434.9 1296.9,404.3 1298.8,356.2 1299.1,347.8 1300.6,360.1 1302.5,374.0 1302.5,374.0 1304.4,381.0 1305.9,386.6 1306.2,387.1 1308.1,389.5 1309.3,391.0 1310.0,382.8 1311.9,359.4 1312.7,348.4 1313.8,347.8 1315.6,347.1 1316.1,346.9 1317.5,352.2 1319.4,359.5 1319.5,359.8 1321.2,336.4 1322.9,313.5 1323.1,311.6 1325.0,296.7 1326.3,286.4 1326.9,285.6 1328.8,280.8 1329.7,277.1 1330.6,272.8 1332.5,268.0 1333.1,266.4 1334.4,258.5 1336.2,249.2 1336.5,248.1 1338.1,244.3 1339.9,240.2 1340.0,239.8 1341.9,240.8 1343.3,241.5 1343.8,241.3 1345.6,240.6 1346.7,240.3 1347.5,240.7 1349.4,241.5 1350.1,241.9 1351.2,241.3 1353.1,240.3 1353.5,240.1 1355.0,246.5 1356.9,254.2 1356.9,254.3 1358.8,252.2 1360.3,250.7 1360.6,250.9 1362.5,252.1 1363.7,252.9 1364.4,254.0 1366.2,256.7 1367.1,258.0 1368.1,259.5 1370.0,262.2 1370.5,262.9 1371.9,266.5 1373.8,271.2 1373.9,271.6 1375.6,278.4 1377.3,293.6 1377.5,296.3 1379.4,319.1 1380.7,327.8 1381.2,329.0 1383.1,333.1 1384.1,335.2 1385.0,335.7 1386.9,336.7 1387.5,337.0 1388.8,341.7 1390.6,348.6 1390.9,349.6 1392.5,361.5 1394.3,375.6 1394.4,376.3 1396.2,384.0 1397.7,388.1 1398.1,389.2 1400.0,393.5 1401.1,396.1 1401.9,399.3 1403.8,407.0 1404.5,410.4 1405.6,415.4 1407.5,423.5 1407.9,425.1 1409.4,430.4 1411.2,443.1 1411.3,443.3 1413.1,455.9 1414.7,460.6 1415.0,461.3 1416.9,465.3 1418.1,467.9 1418.8,472.1 1420.6,483.2 1421.5,488.0 1422.5,489.7 1424.4,492.9 1424.9,493.8 1426.2,497.3 1428.1,502.0 1428.3,502.4 1430.0,510.5 1431.7,518.3 1431.9,518.7 1433.8,523.4 1435.1,526.6 1435.6,527.4 1437.5,529.9 1438.5,531.3 1439.4,535.1 1441.2,540.9 1441.9,542.4 1443.1,543.9 1445.0,546.0 1445.3,546.3 1446.9,550.0 1448.7,554.1 1448.8,554.0 1450.6,551.5 1452.1,549.6 1452.5,550.6 1454.4,555.3 1455.5,558.1 1456.2,559.1 1458.1,561.8 1458.9,562.8 1460.0,565.6 1461.9,568.9 1462.3,569.6 1463.8,567.3 1465.6,564.4 1465.7,564.4 1467.5,564.0 1469.1,563.8 1469.4,564.1 1471.2,566.2 1472.5,567.5 1473.1,568.7 1475.0,572.2 1475.9,573.9 1476.9,574.9 1478.8,576.7 1479.3,577.2 1480.6,579.2 1482.5,582.3 1482.7,582.6 1484.4,582.7 1486.1,582.8 1486.2,582.8 1488.1,583.2 1489.5,583.5 1490.0,584.6 1491.9,588.6 1492.9,590.7 1493.8,591.1 1495.6,591.9 1496.3,592.2 1497.5,593.3 1499.4,595.0 1499.7,595.2 1501.2,597.1 1503.1,600.0 1503.1,600.1 1505.0,604.1 1506.5,607.2 1506.9,607.3 1508.8,607.8 1509.9,608.2 1510.6,609.2 1512.5,611.8 1513.3,612.9 1514.4,614.9 1516.2,618.5 1516.7,619.3 1518.1,621.3 1520.0,624.0 1520.1,624.1 1521.9,626.0 1523.5,627.7 1523.8,628.0 1525.6,630.5 1526.9,632.2 1527.5,633.4 1529.4,637.1 1530.3,638.8 1531.2,640.6 1533.1,643.9 1533.7,644.9 1535.0,646.4 1536.9,648.5 1537.1,648.7 1538.8,651.0 1540.5,653.4 1540.6,653.7 1542.5,656.7 1543.9,658.4 1544.4,658.1 1546.2,657.1 1547.3,656.6 1548.1,657.4 1550.0,659.3 1550.7,659.9 1551.9,661.3 1553.8,663.3 1554.1,663.7 1555.6,664.6 1557.5,665.6 1557.5,665.6 1559.4,667.2 1560.9,668.4 1561.2,668.8 1563.1,670.7 1564.3,671.9 1565.0,672.1 1566.9,672.4 1567.7,672.5 1568.8,673.6 1570.6,675.4 1571.1,675.8 1572.5,676.0 1574.4,676.3 1574.5,676.3 1576.2,678.1 1577.9,679.8 1578.1,680.2 1580.0,682.9 1581.3,684.7 1581.9,684.8 1583.8,685.0 1584.7,685.1 1585.6,686.4 1587.5,689.1 1588.1,690.0 1589.4,691.7 1591.2,694.2 1591.5,694.5 1593.1,695.9 1594.9,697.5 1595.0,697.7 1596.9,700.5 1598.3,702.6 1598.8,703.1 1600.6,705.1 1601.7,706.3 1602.5,707.4 1604.4,709.8 1605.1,710.7 1606.2,711.8 1608.1,714.2 1608.5,714.6 1610.0,716.7 1611.9,719.4 1611.9,719.4 1613.8,722.5 1615.3,725.1 1615.6,725.7 1617.5,728.9 1618.7,730.9 1619.4,732.2 1621.2,735.7 1622.1,737.2 1623.1,738.7 1625.0,741.4 1625.5,742.1 1626.9,744.2 1628.8,745.8 1628.9,745.9 1630.6,747.4 1632.3,748.8 1632.5,749.0 1634.4,751.1 1635.7,752.6 1636.2,752.8 1638.1,753.6 1639.1,754.0 1640.0,755.2 1641.9,757.6 1642.5,758.4 1643.8,758.6 1645.6,758.8 1645.9,758.9 1647.5,760.4 1649.3,761.3 1649.4,761.4 1651.2,762.4 1652.7,763.1 1653.1,763.2 1655.0,763.4 1656.1,763.5 1656.9,763.4 1658.8,763.1 1659.5,763.0 1660.6,763.5 1662.5,764.2 1662.9,764.3 1664.4,764.4 1666.2,764.5 1666.3,764.5 1668.1,765.5 1669.7,766.4 1670.0,766.4 1671.9,766.7 1673.1,766.8 1673.8,766.7 1675.6,766.6 1676.5,766.5 1677.5,766.9 1679.4,767.8 1679.9,768.0 1681.2,768.0 1683.1,768.1 1683.3,768.1 1685.0,768.5 1686.7,769.0 1686.9,769.0 1688.8,769.5 1690.1,769.8 1690.6,769.8 1692.5,770.2 1693.5,770.3 1694.4,770.8 1696.2,771.9 1696.9,772.2 1698.1,772.7 1700.0,773.3 1700.3,773.3 1701.9,773.4 1703.7,773.5 1703.8,773.6 1705.6,774.0 1707.1,774.3 1707.5,774.2 1709.4,773.8 1710.5,773.5 1711.2,773.3 1713.1,773.0 1713.9,772.8 1715.0,773.1 1716.9,773.7 1717.3,773.8 1718.8,774.2 1720.6,774.6 1720.7,774.6 1722.5,774.7 1724.1,774.7 1724.4,774.8 1726.2,775.1 1727.5,775.4 1728.1,775.5 1730.0,775.7 1730.9,775.8 1731.9,775.8 1733.8,775.7 1734.3,775.7 1735.6,775.9 1737.5,776.2 1737.7,776.2 1739.4,776.1 1741.1,776.1 1741.2,776.2 1743.1,777.3 1744.5,778.1 1745.0,778.1 1746.9,777.8 1747.9,777.7 1748.8,777.7 1750.6,777.7 1751.3,777.7 1752.5,777.8 1754.4,778.1 1754.7,778.2 1756.2,778.6 1758.1,779.2 1758.1,779.2 1760.0,780.3 1761.5,781.1 1761.9,781.2 1763.8,781.5 1764.9,781.6 1765.6,781.5 1767.5,781.1 1768.3,781.0 1769.4,781.7 1771.2,782.9 1771.7,783.2 1773.1,783.8 1775.0,784.6 1775.1,784.6 1776.9,785.4 1778.5,786.1 1778.8,786.1 1780.6,786.7 1781.9,787.0 1782.5,787.1 1784.4,787.4 1785.3,787.7 1786.2,788.5 1788.1,790.1 1788.7,790.5 1790.0,791.0 1791.9,791.8 1792.1,791.9 1793.8,792.4 1795.5,792.9 1795.6,793.1 1797.5,794.7 1798.9,795.9 1799.4,796.2 1801.2,797.3 1802.3,797.9 1803.1,798.7 1805.0,800.4 1805.7,801.0 1806.9,801.7 1808.8,803.0 1809.1,803.2 1810.6,803.7 1812.5,804.2 1812.5,804.2 1814.4,806.1 1815.9,807.5 1816.2,807.8 1818.1,809.1 1819.3,809.9 1820.0,810.2 1821.9,811.0 1822.7,811.4 1823.8,812.0 1825.6,813.2 1826.1,813.5 1827.5,815.1 1829.4,817.2 1829.5,817.3 1831.2,818.6 1832.9,819.5 1833.1,819.6 1835.0,820.3 1836.3,820.8 1836.9,821.0 1838.8,821.4 1839.7,821.7 1840.6,822.5 1842.5,824.3 1843.1,824.9 1844.4,825.4 1846.2,826.3 1846.5,826.4 1848.1,827.2 1849.9,828.0 1850.0,828.1 1851.9,829.4 1853.3,830.3 1853.8,830.5 1855.6,830.9 1856.7,831.2 1857.5,831.8 1859.4,833.2 1860.1,833.8 1861.2,834.1 1863.1,834.7 1863.5,834.8 1865.0,835.2 1866.9,835.8 1866.9,835.8 1868.8,836.8 1870.3,837.7 1870.6,837.8 1872.5,838.4 1873.7,838.8 1874.4,838.9 1876.2,839.1 1877.1,839.2 1878.1,839.9 1880.0,841.2 1880.5,841.5 1881.9,842.0 1883.8,842.6 1883.9,842.6 1885.6,842.7 1887.3,842.6 1887.5,842.7 1889.4,843.4 1890.7,844.0 1891.2,844.2 1893.1,844.9 1894.1,845.3 1895.0,845.3 1896.9,845.3 1897.5,845.3 1898.8,846.0 1900.6,847.1 1900.9,847.2 1902.5,847.6 1904.3,848.0 1904.4,848.0 1906.2,847.7 1907.7,847.4 1908.1,847.6 1910.0,848.3 1911.1,848.7 1911.9,849.1 1913.8,850.0 1914.5,850.3 1915.6,850.0 1917.5,849.5 1917.9,849.4 1919.4,849.4 1921.2,849.5 1921.3,849.5 1923.1,849.9 1924.7,850.2 1925.0,850.2 1926.9,850.1 1928.1,850.1 1928.8,850.2 1930.6,850.4 1931.5,850.5 1932.5,850.9 1934.4,851.7 1934.9,851.9 1936.2,851.9 1938.1,851.9 1938.3,851.9 1940.0,852.3 1941.7,852.7 1941.9,852.8 1943.8,853.1 1945.1,853.3 1945.6,853.2 1947.5,853.1 1948.5,853.0 1949.4,853.2 1951.2,853.6 1951.9,853.7 1953.1,853.9 1955.0,854.1 1955.3,854.1 1956.9,854.2 1958.7,854.3 1958.8,854.3 1960.6,854.5 1962.1,854.6 1962.5,854.8 1964.4,855.4 1965.5,855.7 1966.0,855.8" fill="none" stroke="#e0642c" stroke-width="3.2" stroke-linejoin="round" clip-path="url(#cb)"/>
<polyline points="1115.0,398.0 1116.9,389.4 1118.2,383.4 1118.8,381.8 1120.6,378.5 1121.6,378.9 1122.5,382.0 1124.4,387.9 1125.0,389.7 1126.2,380.0 1128.1,366.5 1128.4,364.8 1130.0,371.0 1131.8,351.0 1131.9,349.4 1133.8,320.4 1135.2,298.3 1135.6,289.8 1137.5,267.4 1138.6,274.6 1139.4,281.6 1141.2,294.1 1142.0,289.3 1143.1,284.2 1145.0,275.9 1145.4,274.3 1146.9,266.6 1148.8,266.3 1148.8,266.4 1150.6,279.6 1152.2,290.7 1152.5,292.1 1154.4,264.0 1155.6,237.7 1156.2,224.6 1158.1,188.5 1159.0,172.2 1160.0,148.3 1161.9,167.6 1162.4,172.7 1163.8,190.2 1165.6,162.3 1165.8,159.5 1167.5,125.3 1169.2,97.3 1169.4,99.7 1171.2,121.5 1172.6,136.8 1173.1,143.4 1175.0,165.8 1176.0,181.4 1176.9,195.6 1178.8,225.0 1179.4,222.5 1180.6,196.9 1182.5,158.3 1182.8,152.7 1184.4,128.5 1186.2,107.4 1186.2,108.5 1188.1,137.2 1189.6,159.2 1190.0,166.0 1191.9,195.7 1193.0,208.3 1193.8,217.3 1195.6,238.9 1196.4,248.1 1197.5,267.7 1199.4,300.2 1199.8,307.1 1201.2,318.1 1203.1,329.3 1203.2,329.5 1205.0,341.8 1206.6,351.6 1206.9,354.2 1208.8,370.0 1210.0,380.4 1210.6,388.4 1212.5,411.1 1213.4,421.7 1214.4,418.2 1216.2,411.7 1216.8,409.8 1218.1,422.1 1220.0,439.1 1220.2,440.6 1221.9,448.2 1223.6,455.8 1223.8,454.6 1225.6,438.2 1227.0,420.3 1227.5,424.1 1229.4,437.3 1230.4,444.4 1231.2,437.6 1233.1,423.3 1233.8,418.3 1235.0,411.4 1236.9,400.9 1237.2,399.2 1238.8,397.1 1240.6,394.6 1240.6,394.6 1242.5,395.2 1244.0,395.7 1244.4,394.3 1246.2,387.6 1247.4,383.7 1248.1,381.5 1250.0,376.2 1250.8,371.5 1251.9,360.9 1253.8,342.7 1254.2,338.6 1255.6,338.3 1257.5,337.9 1257.6,337.9 1259.4,342.4 1261.0,350.5 1261.2,352.0 1263.1,362.1 1264.4,368.9 1265.0,370.1 1266.9,367.9 1267.8,363.7 1268.8,364.3 1270.6,365.1 1271.2,365.3 1272.5,362.7 1274.4,359.1 1274.6,358.7 1276.2,348.4 1278.0,337.8 1278.1,337.5 1280.0,334.2 1281.4,344.4 1281.9,347.4 1283.8,358.6 1284.8,364.7 1285.6,360.8 1287.5,344.3 1288.2,338.4 1289.4,329.1 1291.2,314.6 1291.6,312.1 1293.1,304.3 1295.0,302.8 1295.0,303.1 1296.9,323.9 1298.4,340.5 1298.8,344.0 1300.6,359.3 1301.8,365.8 1302.5,362.7 1304.4,354.8 1305.2,351.4 1306.2,356.7 1308.1,365.9 1308.6,368.1 1310.0,385.6 1311.9,400.1 1312.0,400.3 1313.8,374.5 1315.4,351.0 1315.6,349.8 1317.5,339.2 1318.8,328.9 1319.4,324.4 1321.2,310.3 1322.2,302.9 1323.1,291.2 1325.0,269.1 1325.6,262.6 1326.9,249.2 1328.8,212.2 1329.0,207.7 1330.6,184.8 1332.4,190.6 1332.5,191.0 1334.4,196.1 1335.8,199.6 1336.2,205.4 1338.1,229.2 1339.2,229.2 1340.0,229.0 1341.9,228.6 1342.6,228.5 1343.8,228.9 1345.6,229.8 1346.0,231.5 1347.5,235.2 1349.4,239.1 1349.4,239.1 1351.2,235.5 1352.8,232.6 1353.1,231.2 1355.0,230.0 1356.2,234.5 1356.9,237.8 1358.8,246.7 1359.6,250.7 1360.6,252.9 1362.5,254.0 1363.0,254.3 1364.4,254.2 1366.2,254.1 1366.4,254.1 1368.1,256.8 1369.8,259.4 1370.0,259.5 1371.9,260.9 1373.2,261.8 1373.8,261.5 1375.6,263.7 1376.6,266.2 1377.5,271.7 1379.4,282.9 1380.0,286.4 1381.2,294.1 1383.1,305.5 1383.4,307.0 1385.0,316.8 1386.8,327.4 1386.9,328.0 1388.8,335.0 1390.2,337.1 1390.6,337.5 1392.5,339.3 1393.6,341.5 1394.4,347.9 1396.2,362.8 1397.0,368.6 1398.1,371.9 1400.0,377.5 1400.4,378.1 1401.9,380.2 1403.8,382.9 1403.8,382.9 1405.6,394.0 1407.2,403.3 1407.5,403.9 1409.4,404.7 1410.6,404.9 1411.2,406.9 1413.1,412.9 1414.0,418.7 1415.0,423.6 1416.9,432.5 1417.4,434.1 1418.8,440.6 1420.6,449.4 1420.8,450.1 1422.5,454.5 1424.2,458.5 1424.4,459.0 1426.2,463.2 1427.6,466.2 1428.1,467.3 1430.0,471.2 1431.0,473.3 1431.9,476.2 1433.8,481.9 1434.4,483.7 1435.6,483.0 1437.5,482.0 1437.8,481.9 1439.4,488.4 1441.2,495.8 1441.2,495.9 1443.1,498.4 1444.6,500.4 1445.0,500.7 1446.9,500.9 1448.0,500.7 1448.8,501.9 1450.6,504.5 1451.4,505.6 1452.5,506.2 1454.4,507.3 1454.8,507.5 1456.2,509.5 1458.1,512.1 1458.2,512.2 1460.0,515.2 1461.6,517.8 1461.9,517.7 1463.8,517.0 1465.0,516.5 1465.6,517.9 1467.5,521.8 1468.4,523.6 1469.4,524.7 1471.2,525.4 1471.8,525.4 1473.1,524.9 1475.0,524.2 1475.2,524.2 1476.9,525.2 1478.6,526.1 1478.8,525.9 1480.6,523.8 1482.0,522.9 1482.5,523.5 1484.4,525.6 1485.4,526.6 1486.2,527.9 1488.1,530.7 1488.8,532.1 1490.0,531.9 1491.9,531.8 1492.2,531.8 1493.8,533.9 1495.6,536.7 1495.6,536.8 1497.5,540.2 1499.0,542.7 1499.4,543.5 1501.2,547.0 1502.4,549.0 1503.1,549.7 1505.0,551.3 1505.8,552.0 1506.9,554.5 1508.8,559.0 1509.2,560.0 1510.6,562.0 1512.5,564.8 1512.6,564.9 1514.4,569.6 1516.0,573.8 1516.2,574.4 1518.1,578.6 1519.4,581.5 1520.0,582.8 1521.9,586.9 1522.8,588.7 1523.8,591.0 1525.6,595.5 1526.2,596.8 1527.5,600.1 1529.4,604.9 1529.6,605.4 1531.2,608.0 1533.0,610.6 1533.1,610.9 1535.0,613.8 1536.4,616.0 1536.9,617.3 1538.8,622.3 1539.8,625.0 1540.6,626.7 1542.5,630.3 1543.2,631.7 1544.4,633.2 1546.2,635.8 1546.6,636.2 1548.1,639.9 1550.0,643.8 1550.0,643.8 1551.9,645.7 1553.4,647.2 1553.8,647.8 1555.6,651.0 1556.8,652.8 1557.5,653.9 1559.4,656.6 1560.2,657.7 1561.2,659.9 1563.1,663.8 1563.6,664.7 1565.0,665.5 1566.9,666.3 1567.0,666.4 1568.8,668.5 1570.4,670.4 1570.6,670.7 1572.5,672.9 1573.8,674.4 1574.4,675.2 1576.2,677.6 1577.2,678.8 1578.1,679.8 1580.0,681.8 1580.6,682.4 1581.9,682.9 1583.8,683.6 1584.0,683.7 1585.6,686.6 1587.4,689.8 1587.5,689.9 1589.4,691.7 1590.8,693.0 1591.2,693.7 1593.1,696.4 1594.2,697.9 1595.0,698.9 1596.9,701.0 1597.6,701.8 1598.8,702.7 1600.6,704.2 1601.0,704.5 1602.5,706.5 1604.4,709.0 1604.4,709.0 1606.2,711.2 1607.8,713.5 1608.1,714.1 1610.0,717.4 1611.2,719.5 1611.9,720.8 1613.8,724.4 1614.6,726.0 1615.6,727.2 1617.5,729.5 1618.0,730.0 1619.4,732.0 1621.2,734.7 1621.4,734.8 1623.1,738.8 1624.8,742.5 1625.0,742.7 1626.9,744.4 1628.2,744.6 1628.8,745.2 1630.6,747.2 1631.6,748.2 1632.5,748.9 1634.4,750.4 1635.0,750.9 1636.2,751.6 1638.1,752.5 1638.4,752.7 1640.0,754.8 1641.8,757.1 1641.9,757.2 1643.8,758.9 1645.2,760.1 1645.6,760.4 1647.5,761.4 1648.6,761.7 1649.4,761.9 1651.2,762.6 1652.0,762.8 1653.1,763.1 1655.0,763.6 1655.4,763.7 1656.9,763.6 1658.8,763.4 1658.8,763.4 1660.6,764.9 1662.2,766.1 1662.5,766.1 1664.4,766.0 1665.6,765.9 1666.2,766.2 1668.1,766.8 1669.0,767.1 1670.0,767.8 1671.9,768.9 1672.4,769.2 1673.8,769.8 1675.6,770.5 1675.8,770.6 1677.5,770.4 1679.2,770.1 1679.4,770.3 1681.2,771.7 1682.6,772.7 1683.1,772.9 1685.0,773.7 1686.0,774.2 1686.9,774.1 1688.8,773.9 1689.4,773.9 1690.6,774.4 1692.5,775.3 1692.8,775.4 1694.4,776.4 1696.2,777.5 1696.2,777.5 1698.1,778.3 1699.6,778.9 1700.0,779.1 1701.9,779.2 1703.0,779.2 1703.8,779.6 1705.6,780.5 1706.4,780.9 1707.5,781.1 1709.4,781.4 1709.8,781.5 1711.2,781.3 1713.1,781.1 1713.2,781.1 1715.0,781.4 1716.6,781.7 1716.9,781.7 1718.8,781.9 1720.0,782.1 1720.6,782.1 1722.5,782.4 1723.4,782.5 1724.4,782.6 1726.2,782.8 1726.8,782.9 1728.1,782.9 1730.0,783.0 1730.2,783.0 1731.9,784.2 1733.6,785.5 1733.8,785.4 1735.6,785.4 1737.0,785.3 1737.5,785.5 1739.4,786.1 1740.4,786.5 1741.2,787.0 1743.1,788.2 1743.8,788.6 1745.0,788.3 1746.9,787.8 1747.2,787.7 1748.8,788.5 1750.6,789.3 1750.6,789.3 1752.5,789.0 1754.0,788.7 1754.4,788.9 1756.2,789.6 1757.4,790.0 1758.1,790.4 1760.0,791.3 1760.8,791.7 1761.9,791.8 1763.8,792.1 1764.2,792.2 1765.6,792.4 1767.5,792.6 1767.6,792.6 1769.4,793.3 1771.0,793.9 1771.2,794.1 1773.1,795.5 1774.4,796.5 1775.0,796.6 1776.9,796.8 1777.8,797.0 1778.8,797.7 1780.6,799.1 1781.2,799.5 1782.5,800.0 1784.4,800.6 1784.6,800.6 1786.2,801.5 1788.0,802.3 1788.1,802.4 1790.0,803.6 1791.4,804.6 1791.9,805.0 1793.8,806.4 1794.8,807.2 1795.6,807.6 1797.5,808.5 1798.2,808.8 1799.4,809.2 1801.2,810.0 1801.6,810.1 1803.1,811.4 1805.0,813.0 1805.0,813.0 1806.9,813.9 1808.4,814.6 1808.8,814.9 1810.6,816.3 1811.8,817.2 1812.5,817.8 1814.4,819.5 1815.2,820.2 1816.2,820.9 1818.1,822.2 1818.6,822.5 1820.0,823.7 1821.9,825.4 1822.0,825.5 1823.8,826.3 1825.4,827.2 1825.6,827.3 1827.5,828.6 1828.8,829.5 1829.4,829.9 1831.2,831.2 1832.2,831.6 1833.1,832.2 1835.0,833.2 1835.6,833.5 1836.9,833.7 1838.8,834.1 1839.0,834.1 1840.6,834.9 1842.4,835.8 1842.5,835.8 1844.4,836.4 1845.8,836.8 1846.2,837.0 1848.1,837.8 1849.2,838.2 1850.0,838.7 1851.9,839.7 1852.6,840.0 1853.8,841.0 1855.6,842.4 1856.0,842.6 1857.5,842.4 1859.4,842.1 1859.4,842.1 1861.2,842.9 1862.8,843.5 1863.1,843.6 1865.0,844.1 1866.2,844.4 1866.9,844.6 1868.8,845.0 1869.6,845.2 1870.6,845.6 1872.5,846.2 1873.0,846.4 1874.4,847.3 1876.2,848.5 1876.4,848.6 1878.1,848.4 1879.8,848.2 1880.0,848.3 1881.9,849.5 1883.2,850.3 1883.8,850.4 1885.6,850.5 1886.6,850.5 1887.5,850.3 1889.4,850.1 1890.0,850.0 1891.2,850.3 1893.1,850.7 1893.4,850.7 1895.0,851.0 1896.8,851.4 1896.9,851.4 1898.8,851.5 1900.2,851.5 1900.6,851.8 1902.5,852.9 1903.6,853.5 1904.4,853.5 1906.2,853.5 1907.0,853.6 1908.1,853.8 1910.0,854.1 1910.4,854.1 1911.9,853.9 1913.8,853.7 1913.8,853.7 1915.6,854.4 1917.2,854.9 1917.5,854.8 1919.4,854.6 1920.6,854.4 1921.2,854.8 1923.1,855.7 1924.0,856.2 1925.0,855.8 1926.9,855.2 1927.4,855.0 1928.8,855.2 1930.6,855.4 1930.8,855.4 1932.5,855.5 1934.2,855.7 1934.4,855.6 1936.2,855.4 1937.6,855.3 1938.1,855.3 1940.0,855.5 1941.0,855.5 1941.9,855.6 1943.8,855.7 1944.4,855.7 1945.6,856.0 1947.5,856.5 1947.8,856.6 1949.4,856.2 1951.2,855.8 1951.2,855.8 1953.1,856.1 1954.6,856.3 1955.0,856.4 1956.9,856.7 1958.0,856.8 1958.8,856.8 1960.6,856.6 1961.4,856.6 1962.5,856.4 1964.4,856.2 1964.8,856.2 1966.0,856.3" fill="none" stroke="#a89418" stroke-width="3.2" stroke-linejoin="round" clip-path="url(#cb)"/>
<rect x="624.6" y="19.5" width="316.9" height="398.8" fill="#fff"/>
<polyline points="659.7,88.0 662.1,88.0 664.5,88.0 666.8,88.0 669.2,88.0 671.6,88.0 673.9,88.0 676.3,88.0 678.7,88.1 681.0,88.1 683.4,88.1 685.8,88.1 688.1,88.2 690.5,88.2 692.9,88.2 695.2,88.3 697.6,88.3 700.0,88.4 702.3,88.4 704.7,88.5 707.1,88.6 709.5,88.7 711.8,88.8 714.2,89.0 716.6,89.2 718.9,89.4 721.3,89.6 723.7,89.9 726.0,90.2 728.4,90.5 730.8,91.0 733.1,91.5 735.5,92.0 737.9,92.7 740.2,93.5 742.6,94.4 745.0,95.4 747.3,96.6 749.7,98.0 752.1,99.6 754.4,101.4 756.8,103.5 759.2,105.9 761.5,108.6 763.9,111.7 766.3,115.1 768.6,119.0 771.0,123.3 773.4,128.1 775.8,133.3 778.1,139.0 780.5,145.2 782.9,151.8 785.2,158.9 787.6,166.2 790.0,173.9 792.3,181.7 794.7,189.6 797.1,197.6 799.4,205.5 801.8,213.1 804.2,220.6 806.5,227.7 808.9,234.4 811.3,240.7 813.6,246.5 816.0,251.9 818.4,256.7 820.7,261.1 823.1,265.1 825.5,268.7 827.8,271.8 830.2,274.6 832.6,277.0 834.9,279.2 837.3,281.1 839.7,282.7 842.0,284.1 844.4,285.4 846.8,286.5 849.2,287.4 851.5,288.2 853.9,288.9 856.3,289.5 858.6,290.0 861.0,290.4 863.4,290.8 865.7,291.1 868.1,291.4 870.5,291.6 872.8,291.9 875.2,292.0 877.6,292.2 879.9,292.3 882.3,292.4 884.7,292.5 887.0,292.6 889.4,292.7 891.8,292.7 894.1,292.8 896.5,292.8 898.9,292.9 901.2,292.9 903.6,292.9 906.0,293.0 908.4,293.0 910.7,293.0 913.1,293.0 915.5,293.0 917.8,293.0 920.2,293.0 922.6,293.0 924.9,293.1 927.3,293.1 929.7,293.1 932.0,293.1 934.4,293.1 936.8,293.1 939.1,293.1 941.5,293.1" fill="none" stroke="#111" stroke-width="2.0"/>
<polyline points="659.7,365.9 662.1,365.9 664.5,365.9 666.8,365.9 669.2,365.9 671.6,365.9 673.9,365.9 676.3,365.9 678.7,365.8 681.0,365.8 683.4,365.8 685.8,365.8 688.1,365.8 690.5,365.8 692.9,365.8 695.2,365.7 697.6,365.7 700.0,365.7 702.3,365.6 704.7,365.6 707.1,365.5 709.5,365.4 711.8,365.4 714.2,365.3 716.6,365.2 718.9,365.1 721.3,364.9 723.7,364.8 726.0,364.6 728.4,364.3 730.8,364.1 733.1,363.8 735.5,363.4 737.9,363.0 740.2,362.6 742.6,362.0 745.0,361.4 747.3,360.7 749.7,359.9 752.1,358.9 754.4,357.8 756.8,356.6 759.2,355.2 761.5,353.6 763.9,351.9 766.3,349.9 768.6,347.7 771.0,345.3 773.4,342.6 775.8,339.7 778.1,336.6 780.5,333.3 782.9,329.8 785.2,326.2 787.6,322.4 790.0,318.6 792.3,314.7 794.7,310.9 797.1,307.1 799.4,303.5 801.8,299.9 804.2,296.6 806.5,293.4 808.9,290.5 811.3,287.8 813.6,285.3 816.0,283.0 818.4,281.0 820.7,279.2 823.1,277.5 825.5,276.1 827.8,274.8 830.2,273.7 832.6,272.7 834.9,271.9 837.3,271.1 839.7,270.5 842.0,269.9 844.4,269.4 846.8,269.0 849.2,268.7 851.5,268.4 853.9,268.1 856.3,267.9 858.6,267.7 861.0,267.5 863.4,267.3 865.7,267.2 868.1,267.1 870.5,267.0 872.8,266.9 875.2,266.9 877.6,266.8 879.9,266.8 882.3,266.7 884.7,266.7 887.0,266.6 889.4,266.6 891.8,266.6 894.1,266.6 896.5,266.6 898.9,266.5 901.2,266.5 903.6,266.5 906.0,266.5 908.4,266.5 910.7,266.5 913.1,266.5 915.5,266.5 917.8,266.5 920.2,266.5 922.6,266.5 924.9,266.5 927.3,266.5 929.7,266.5 932.0,266.5 934.4,266.5 936.8,266.5 939.1,266.5 941.5,266.5" fill="none" stroke="#111" stroke-width="2.0"/>
<line x1="624.6" y1="18.5" x2="624.6" y2="419.3" stroke="#000" stroke-width="2"/>
<line x1="623.6" y1="418.3" x2="942.5" y2="418.3" stroke="#000" stroke-width="2"/>
<line x1="624.6" y1="329.5" x2="633.6" y2="329.5" stroke="#000" stroke-width="1.8"/>
<line x1="624.6" y1="240.7" x2="633.6" y2="240.7" stroke="#000" stroke-width="1.8"/>
<line x1="624.6" y1="151.9" x2="633.6" y2="151.9" stroke="#000" stroke-width="1.8"/>
<line x1="624.6" y1="63.1" x2="633.6" y2="63.1" stroke="#000" stroke-width="1.8"/>
<line x1="694.9" y1="418.3" x2="694.9" y2="408.3" stroke="#000" stroke-width="1.8"/>
<line x1="765.1" y1="418.3" x2="765.1" y2="408.3" stroke="#000" stroke-width="1.8"/>
<line x1="835.4" y1="418.3" x2="835.4" y2="408.3" stroke="#000" stroke-width="1.8"/>
<line x1="905.6" y1="418.3" x2="905.6" y2="408.3" stroke="#000" stroke-width="1.8"/>
<text x="615.1" y="426.1" font-size="27" text-anchor="end" font-weight="normal" >2</text>
<text x="615.1" y="248.5" font-size="27" text-anchor="end" font-weight="normal" >4</text>
<text x="615.1" y="70.9" font-size="27" text-anchor="end" font-weight="normal" >6</text>
<text x="624.6" y="439.3" font-size="27" text-anchor="middle" font-weight="normal" >0</text>
<text x="694.9" y="439.3" font-size="27" text-anchor="middle" font-weight="normal" >2</text>
<text x="765.1" y="439.3" font-size="27" text-anchor="middle" font-weight="normal" >4</text>
<text x="835.4" y="439.3" font-size="27" text-anchor="middle" font-weight="normal" >6</text>
<text x="905.6" y="439.3" font-size="27" text-anchor="middle" font-weight="normal" >8</text>
<circle cx="715.9" cy="105.7" r="7.2" fill="#000"/>
<circle cx="750.7" cy="80.0" r="7.2" fill="#000"/>
<circle cx="795.3" cy="191.9" r="7.2" fill="#000"/>
<circle cx="835.4" cy="260.2" r="7.2" fill="#000"/>
<circle cx="883.1" cy="294.0" r="7.2" fill="#000"/>
<circle cx="915.4" cy="306.4" r="7.2" fill="#000"/>
<circle cx="715.9" cy="389.0" r="6.3" fill="#fff" stroke="#000" stroke-width="1.7"/>
<circle cx="750.7" cy="341.0" r="6.3" fill="#fff" stroke="#000" stroke-width="1.7"/>
<circle cx="795.3" cy="300.2" r="6.3" fill="#fff" stroke="#000" stroke-width="1.7"/>
<circle cx="835.4" cy="285.1" r="6.3" fill="#fff" stroke="#000" stroke-width="1.7"/>
<circle cx="883.1" cy="269.1" r="6.3" fill="#fff" stroke="#000" stroke-width="1.7"/>
<circle cx="915.4" cy="254.9" r="6.3" fill="#fff" stroke="#000" stroke-width="1.7"/>
<text transform="translate(609.8,157.6) rotate(-90) scale(1,1.04)" font-size="34" text-anchor="middle">F(R)</text>
<text x="758.2" y="477.4" font-size="33" text-anchor="start" font-weight="normal" >pH</text>
<rect x="1643.0" y="19.5" width="322.6" height="400.5" fill="#fff"/>
<polyline points="1678.8,134.7 1681.2,134.8 1683.6,134.8 1686.0,134.8 1688.4,134.9 1690.9,134.9 1693.3,135.0 1695.7,135.0 1698.1,135.1 1700.5,135.2 1702.9,135.3 1705.3,135.4 1707.7,135.6 1710.1,135.8 1712.5,136.0 1715.0,136.2 1717.4,136.4 1719.8,136.8 1722.2,137.1 1724.6,137.5 1727.0,138.0 1729.4,138.6 1731.8,139.3 1734.2,140.0 1736.6,140.9 1739.1,142.0 1741.5,143.1 1743.9,144.5 1746.3,146.1 1748.7,147.9 1751.1,150.0 1753.5,152.4 1755.9,155.1 1758.3,158.2 1760.7,161.6 1763.2,165.5 1765.6,169.9 1768.0,174.8 1770.4,180.2 1772.8,186.0 1775.2,192.4 1777.6,199.3 1780.0,206.7 1782.4,214.5 1784.8,222.6 1787.3,231.0 1789.7,239.6 1792.1,248.2 1794.5,256.8 1796.9,265.4 1799.3,273.7 1801.7,281.6 1804.1,289.2 1806.5,296.4 1808.9,303.1 1811.4,309.3 1813.8,315.0 1816.2,320.1 1818.6,324.8 1821.0,328.9 1823.4,332.7 1825.8,336.0 1828.2,338.9 1830.6,341.5 1833.0,343.7 1835.5,345.7 1837.9,347.4 1840.3,348.9 1842.7,350.2 1845.1,351.3 1847.5,352.3 1849.9,353.1 1852.3,353.8 1854.7,354.4 1857.1,355.0 1859.6,355.4 1862.0,355.8 1864.4,356.2 1866.8,356.5 1869.2,356.7 1871.6,356.9 1874.0,357.1 1876.4,357.3 1878.8,357.4 1881.2,357.5 1883.7,357.6 1886.1,357.7 1888.5,357.8 1890.9,357.8 1893.3,357.9 1895.7,357.9 1898.1,358.0 1900.5,358.0 1902.9,358.1 1905.3,358.1 1907.8,358.1 1910.2,358.1 1912.6,358.1 1915.0,358.1 1917.4,358.2 1919.8,358.2 1922.2,358.2 1924.6,358.2 1927.0,358.2 1929.4,358.2 1931.9,358.2 1934.3,358.2 1936.7,358.2 1939.1,358.2 1941.5,358.2 1943.9,358.2 1946.3,358.2 1948.7,358.2 1951.1,358.2 1953.5,358.2 1956.0,358.2 1958.4,358.2 1960.8,358.2 1963.2,358.2 1965.6,358.2" fill="none" stroke="#111" stroke-width="2.0"/>
<polyline points="1678.8,318.1 1681.2,318.1 1683.6,318.1 1686.0,318.1 1688.4,318.1 1690.9,318.1 1693.3,318.1 1695.7,318.0 1698.1,318.0 1700.5,318.0 1702.9,318.0 1705.3,317.9 1707.7,317.9 1710.1,317.8 1712.5,317.8 1715.0,317.7 1717.4,317.6 1719.8,317.5 1722.2,317.4 1724.6,317.3 1727.0,317.1 1729.4,317.0 1731.8,316.8 1734.2,316.5 1736.6,316.3 1739.1,315.9 1741.5,315.6 1743.9,315.2 1746.3,314.7 1748.7,314.1 1751.1,313.5 1753.5,312.7 1755.9,311.8 1758.3,310.9 1760.7,309.8 1763.2,308.5 1765.6,307.0 1768.0,305.4 1770.4,303.6 1772.8,301.6 1775.2,299.4 1777.6,296.9 1780.0,294.3 1782.4,291.4 1784.8,288.3 1787.3,285.0 1789.7,281.6 1792.1,278.1 1794.5,274.4 1796.9,270.8 1799.3,267.1 1801.7,263.5 1804.1,259.9 1806.5,256.5 1808.9,253.2 1811.4,250.2 1813.8,247.3 1816.2,244.6 1818.6,242.1 1821.0,239.9 1823.4,237.9 1825.8,236.1 1828.2,234.4 1830.6,233.0 1833.0,231.7 1835.5,230.6 1837.9,229.6 1840.3,228.7 1842.7,228.0 1845.1,227.3 1847.5,226.8 1849.9,226.3 1852.3,225.9 1854.7,225.5 1857.1,225.2 1859.6,224.9 1862.0,224.7 1864.4,224.5 1866.8,224.3 1869.2,224.1 1871.6,224.0 1874.0,223.9 1876.4,223.8 1878.8,223.7 1881.2,223.6 1883.7,223.6 1886.1,223.5 1888.5,223.5 1890.9,223.5 1893.3,223.4 1895.7,223.4 1898.1,223.4 1900.5,223.4 1902.9,223.3 1905.3,223.3 1907.8,223.3 1910.2,223.3 1912.6,223.3 1915.0,223.3 1917.4,223.3 1919.8,223.3 1922.2,223.3 1924.6,223.3 1927.0,223.3 1929.4,223.3 1931.9,223.2 1934.3,223.2 1936.7,223.2 1939.1,223.2 1941.5,223.2 1943.9,223.2 1946.3,223.2 1948.7,223.2 1951.1,223.2 1953.5,223.2 1956.0,223.2 1958.4,223.2 1960.8,223.2 1963.2,223.2 1965.6,223.2" fill="none" stroke="#111" stroke-width="2.0"/>
<line x1="1643.0" y1="18.5" x2="1643.0" y2="421.0" stroke="#000" stroke-width="2"/>
<line x1="1642.0" y1="420.0" x2="1966.6" y2="420.0" stroke="#000" stroke-width="2"/>
<line x1="1643.0" y1="362.8" x2="1652.0" y2="362.8" stroke="#000" stroke-width="1.8"/>
<line x1="1643.0" y1="305.6" x2="1652.0" y2="305.6" stroke="#000" stroke-width="1.8"/>
<line x1="1643.0" y1="248.4" x2="1652.0" y2="248.4" stroke="#000" stroke-width="1.8"/>
<line x1="1643.0" y1="191.2" x2="1652.0" y2="191.2" stroke="#000" stroke-width="1.8"/>
<line x1="1643.0" y1="134.0" x2="1652.0" y2="134.0" stroke="#000" stroke-width="1.8"/>
<line x1="1643.0" y1="76.8" x2="1652.0" y2="76.8" stroke="#000" stroke-width="1.8"/>
<line x1="1714.6" y1="420.0" x2="1714.6" y2="410.0" stroke="#000" stroke-width="1.8"/>
<line x1="1786.2" y1="420.0" x2="1786.2" y2="410.0" stroke="#000" stroke-width="1.8"/>
<line x1="1857.8" y1="420.0" x2="1857.8" y2="410.0" stroke="#000" stroke-width="1.8"/>
<line x1="1929.4" y1="420.0" x2="1929.4" y2="410.0" stroke="#000" stroke-width="1.8"/>
<text x="1633.5" y="427.8" font-size="27" text-anchor="end" font-weight="normal" >2</text>
<text x="1633.5" y="256.2" font-size="27" text-anchor="end" font-weight="normal" >5</text>
<text x="1633.5" y="84.6" font-size="27" text-anchor="end" font-weight="normal" >8</text>
<text x="1643.0" y="442.5" font-size="27" text-anchor="middle" font-weight="normal" >0</text>
<text x="1714.6" y="442.5" font-size="27" text-anchor="middle" font-weight="normal" >2</text>
<text x="1786.2" y="442.5" font-size="27" text-anchor="middle" font-weight="normal" >4</text>
<text x="1857.8" y="442.5" font-size="27" text-anchor="middle" font-weight="normal" >6</text>
<text x="1929.4" y="442.5" font-size="27" text-anchor="middle" font-weight="normal" >8</text>
<circle cx="1733.2" cy="139.1" r="7.2" fill="#000"/>
<circle cx="1761.5" cy="168.3" r="7.2" fill="#000"/>
<circle cx="1803.7" cy="293.0" r="7.2" fill="#000"/>
<circle cx="1845.6" cy="330.8" r="7.2" fill="#000"/>
<circle cx="1871.4" cy="354.8" r="7.2" fill="#000"/>
<circle cx="1898.6" cy="381.7" r="7.2" fill="#000"/>
<circle cx="1733.2" cy="329.6" r="6.3" fill="#fff" stroke="#000" stroke-width="1.7"/>
<circle cx="1761.5" cy="286.2" r="6.3" fill="#fff" stroke="#000" stroke-width="1.7"/>
<circle cx="1803.7" cy="252.4" r="6.3" fill="#fff" stroke="#000" stroke-width="1.7"/>
<circle cx="1845.6" cy="238.1" r="6.3" fill="#fff" stroke="#000" stroke-width="1.7"/>
<circle cx="1871.4" cy="215.8" r="6.3" fill="#fff" stroke="#000" stroke-width="1.7"/>
<circle cx="1898.6" cy="214.7" r="6.3" fill="#fff" stroke="#000" stroke-width="1.7"/>
<text transform="translate(1629.8,151.6) rotate(-90) scale(1,1.04)" font-size="34" text-anchor="middle">F(R)</text>
<text x="1783.2" y="477.4" font-size="33" text-anchor="start" font-weight="normal" >pH</text>
<line x1="1642.0" y1="20.5" x2="1966.6" y2="20.5" stroke="#000" stroke-width="4"/>
<line x1="348.2" y1="85.0" x2="406.2" y2="107.7" stroke="#000" stroke-width="2.2"/>
<path d="M423.4,114.4 L397.8,114.0 L406.2,107.7 L404.3,97.3 Z" fill="#000"/>
<line x1="658.4" y1="534.2" x2="615.9" y2="493.1" stroke="#000" stroke-width="2.2"/>
<path d="M602.6,480.2 L626.1,490.4 L615.9,493.1 L613.6,503.4 Z" fill="#000"/>
<line x1="1440.6" y1="68.4" x2="1464.9" y2="115.6" stroke="#000" stroke-width="2.2"/>
<path d="M1473.3,132.1 L1454.3,114.9 L1464.9,115.6 L1470.3,106.6 Z" fill="#000"/>
<line x1="1288.3" y1="164.3" x2="1313.6" y2="212.6" stroke="#000" stroke-width="2.2"/>
<path d="M1322.2,229.0 L1303.1,211.9 L1313.6,212.6 L1319.0,203.6 Z" fill="#000"/>
<rect x="97.5" y="19.5" width="844.0" height="841.5" fill="none" stroke="#000" stroke-width="2.3"/>
<line x1="97.5" y1="720.8" x2="114.0" y2="720.8" stroke="#000" stroke-width="2.2"/>
<line x1="97.5" y1="580.5" x2="114.0" y2="580.5" stroke="#000" stroke-width="2.2"/>
<line x1="97.5" y1="440.2" x2="114.0" y2="440.2" stroke="#000" stroke-width="2.2"/>
<line x1="97.5" y1="300.0" x2="114.0" y2="300.0" stroke="#000" stroke-width="2.2"/>
<line x1="97.5" y1="159.8" x2="114.0" y2="159.8" stroke="#000" stroke-width="2.2"/>
<line x1="191.3" y1="861.0" x2="191.3" y2="845.0" stroke="#000" stroke-width="2.2"/>
<line x1="378.8" y1="861.0" x2="378.8" y2="845.0" stroke="#000" stroke-width="2.2"/>
<line x1="566.4" y1="861.0" x2="566.4" y2="845.0" stroke="#000" stroke-width="2.2"/>
<line x1="753.9" y1="861.0" x2="753.9" y2="845.0" stroke="#000" stroke-width="2.2"/>
<text transform="translate(191.3,911.4) scale(1.0,1.07)" font-size="34" text-anchor="middle" font-weight="normal" >300</text>
<text transform="translate(378.8,911.4) scale(1.0,1.07)" font-size="34" text-anchor="middle" font-weight="normal" >400</text>
<text transform="translate(566.4,911.4) scale(1.0,1.07)" font-size="34" text-anchor="middle" font-weight="normal" >500</text>
<text transform="translate(753.9,911.4) scale(1.0,1.07)" font-size="34" text-anchor="middle" font-weight="normal" >600</text>
<text transform="translate(941.5,911.4) scale(1.0,1.07)" font-size="34" text-anchor="middle" font-weight="normal" >700</text>
<text transform="translate(75.5,873.4) scale(1.0,1.07)" font-size="34" text-anchor="end" font-weight="normal" >0</text>
<text transform="translate(75.5,452.6) scale(1.0,1.07)" font-size="34" text-anchor="end" font-weight="normal" >3</text>
<text transform="translate(75.5,30.6) scale(1.0,1.07)" font-size="34" text-anchor="end" font-weight="normal" >6</text>
<rect x="1114.6" y="19.5" width="851.0" height="841.5" fill="none" stroke="#000" stroke-width="2.3"/>
<line x1="1114.6" y1="755.8" x2="1129.6" y2="755.8" stroke="#000" stroke-width="2.2"/>
<line x1="1114.6" y1="650.6" x2="1129.6" y2="650.6" stroke="#000" stroke-width="2.2"/>
<line x1="1114.6" y1="545.4" x2="1129.6" y2="545.4" stroke="#000" stroke-width="2.2"/>
<line x1="1114.6" y1="440.2" x2="1129.6" y2="440.2" stroke="#000" stroke-width="2.2"/>
<line x1="1114.6" y1="335.1" x2="1129.6" y2="335.1" stroke="#000" stroke-width="2.2"/>
<line x1="1114.6" y1="229.9" x2="1129.6" y2="229.9" stroke="#000" stroke-width="2.2"/>
<line x1="1114.6" y1="124.7" x2="1129.6" y2="124.7" stroke="#000" stroke-width="2.2"/>
<line x1="1209.2" y1="861.0" x2="1209.2" y2="845.0" stroke="#000" stroke-width="2.2"/>
<line x1="1398.3" y1="861.0" x2="1398.3" y2="845.0" stroke="#000" stroke-width="2.2"/>
<line x1="1587.4" y1="861.0" x2="1587.4" y2="845.0" stroke="#000" stroke-width="2.2"/>
<line x1="1776.5" y1="861.0" x2="1776.5" y2="845.0" stroke="#000" stroke-width="2.2"/>
<text transform="translate(1209.2,911.4) scale(1.0,1.07)" font-size="34" text-anchor="middle" font-weight="normal" >300</text>
<text transform="translate(1398.3,911.4) scale(1.0,1.07)" font-size="34" text-anchor="middle" font-weight="normal" >400</text>
<text transform="translate(1587.4,911.4) scale(1.0,1.07)" font-size="34" text-anchor="middle" font-weight="normal" >500</text>
<text transform="translate(1776.5,911.4) scale(1.0,1.07)" font-size="34" text-anchor="middle" font-weight="normal" >600</text>
<text transform="translate(1965.6,911.4) scale(1.0,1.07)" font-size="34" text-anchor="middle" font-weight="normal" >700</text>
<text transform="translate(1092.6,873.4) scale(1.0,1.07)" font-size="34" text-anchor="end" font-weight="normal" >0</text>
<text transform="translate(1092.6,452.6) scale(1.0,1.07)" font-size="34" text-anchor="end" font-weight="normal" >4</text>
<text transform="translate(1092.6,31.9) scale(1.0,1.07)" font-size="34" text-anchor="end" font-weight="normal" >8</text>
<text transform="translate(510.5,961.0) scale(1.015,1.0)" font-size="37.5" text-anchor="middle" font-weight="normal" >Wavelength (nm)</text>
<text transform="translate(1529.5,961.0) scale(1.015,1.0)" font-size="37.5" text-anchor="middle" font-weight="normal" >Wavelength (nm)</text>
<text transform="translate(34.2,444.5) rotate(-90)" font-size="37.5" text-anchor="middle">F(R)</text>
<text transform="translate(1045,439) rotate(-90)" font-size="37.5" text-anchor="middle">F(R)</text>
<text x="139.5" y="799.5" font-size="41" text-anchor="start" font-weight="bold" >(a)</text>
<text x="1176.0" y="799.5" font-size="41" text-anchor="start" font-weight="bold" >(b)</text>
<text x="214.0" y="87.0" font-size="33.5" text-anchor="start" font-weight="normal" >pH = 2.6</text>
<text x="666.5" y="551.2" font-size="33.5" text-anchor="start" font-weight="normal" >pH = 8.29</text>
<text x="1306.5" y="69.8" font-size="33.5" text-anchor="start" font-weight="normal" >pH = 2.5</text>
<text x="1238.3" y="155.3" font-size="33.5" text-anchor="start" font-weight="normal" >pH = 7.2</text>
</svg></body></html>
